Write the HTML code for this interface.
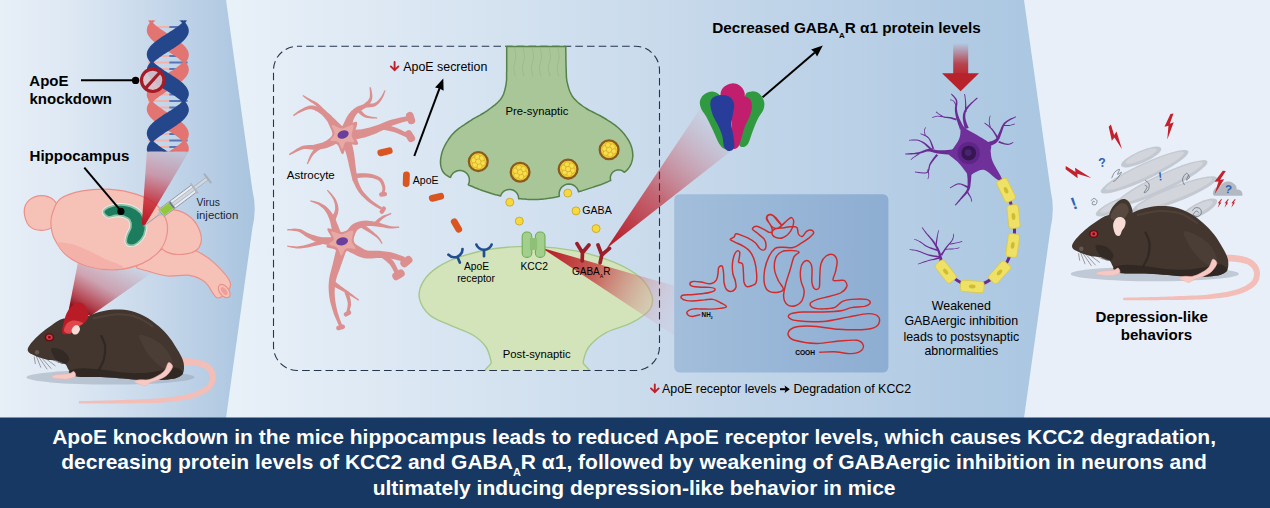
<!DOCTYPE html><html><head><meta charset="utf-8"><title>Graphical abstract</title><style>
html,body{margin:0;padding:0;background:#e8eff8;}
body{width:1270px;height:508px;overflow:hidden;position:relative;font-family:"Liberation Sans",sans-serif;color:#000;}
.t{position:absolute;white-space:nowrap;line-height:1;}
.b{font-weight:bold;}
.c{text-align:center;}
sub{font-size:52%;vertical-align:baseline;position:relative;top:0.62em;line-height:0;}
#banner{position:absolute;left:0;top:417px;width:1270px;height:91px;color:#fff;font-weight:bold;font-size:21px;text-align:center;}
#banner div{position:absolute;left:-0.9px;width:1270px;white-space:nowrap;line-height:1;}
.red{color:#c0202a;}
</style></head><body><svg width="1270" height="508" viewBox="0 0 1270 508" style="position:absolute;left:0;top:0">
<defs>
<linearGradient id="gL" gradientUnits="userSpaceOnUse" x1="0" y1="0" x2="255" y2="0">
 <stop offset="0" stop-color="#e7eff7"/><stop offset="0.25" stop-color="#dfe9f4"/><stop offset="0.55" stop-color="#cbdbec"/><stop offset="1" stop-color="#a9c4df"/></linearGradient>
<linearGradient id="gM" gradientUnits="userSpaceOnUse" x1="235" y1="0" x2="1050" y2="0">
 <stop offset="0" stop-color="#e8f0f8"/><stop offset="0.5" stop-color="#cadbec"/><stop offset="1" stop-color="#aac6e1"/></linearGradient>
<linearGradient id="gBox" gradientUnits="userSpaceOnUse" x1="674" y1="0" x2="888" y2="0">
 <stop offset="0" stop-color="#a2bedb"/><stop offset="1" stop-color="#8dadd2"/></linearGradient>
<linearGradient id="gBeam1" gradientUnits="userSpaceOnUse" x1="167" y1="150" x2="145" y2="225">
 <stop offset="0" stop-color="#c8283a" stop-opacity="0.1"/><stop offset="0.35" stop-color="#c8283a" stop-opacity="0.36"/><stop offset="0.65" stop-color="#c4202c" stop-opacity="0.78"/><stop offset="1" stop-color="#bb1622" stop-opacity="1"/></linearGradient>
<linearGradient id="gBeam2" gradientUnits="userSpaceOnUse" x1="115" y1="255" x2="82" y2="312">
 <stop offset="0" stop-color="#b82030" stop-opacity="0.04"/><stop offset="0.5" stop-color="#b82030" stop-opacity="0.33"/><stop offset="0.85" stop-color="#a81824" stop-opacity="0.8"/><stop offset="1" stop-color="#8e121c" stop-opacity="1"/></linearGradient>
<linearGradient id="gBeam3" gradientUnits="userSpaceOnUse" x1="541" y1="248" x2="675" y2="311">
 <stop offset="0" stop-color="#b5141f" stop-opacity="1"/><stop offset="0.4" stop-color="#c43a3a" stop-opacity="0.78"/><stop offset="0.75" stop-color="#d08a8a" stop-opacity="0.42"/><stop offset="0.9" stop-color="#d8a0b8" stop-opacity="0.25"/><stop offset="1" stop-color="#d8a8c0" stop-opacity="0.15"/></linearGradient>
<linearGradient id="gBeam4" gradientUnits="userSpaceOnUse" x1="606" y1="248" x2="716" y2="128">
 <stop offset="0" stop-color="#b5141f" stop-opacity="1"/><stop offset="0.45" stop-color="#c02a35" stop-opacity="0.65"/><stop offset="1" stop-color="#d07080" stop-opacity="0.08"/></linearGradient>
<linearGradient id="gArrow" gradientUnits="userSpaceOnUse" x1="0" y1="43" x2="0" y2="78">
 <stop offset="0" stop-color="#b8222a" stop-opacity="0"/><stop offset="0.6" stop-color="#b8222a" stop-opacity="0.8"/><stop offset="1" stop-color="#b8222a" stop-opacity="1"/></linearGradient>
</defs>

<rect x="0" y="0" width="1270" height="418" fill="#e8eff8"/>
<path d="M0 0H1024L1050.6 190Q1055 209 1050.6 228L1024 418H0Z" fill="url(#gM)"/>
<path d="M0 0H226L252.4 190Q257 209 252.4 228L226 418H0Z" fill="url(#gL)"/>
<rect x="0" y="417.5" width="1270" height="91" fill="#163862"/>
<path d="M80 252L158 268.6L91 315.5L68.5 311Z" fill="url(#gBeam2)"/>
<clipPath id="cDNA"><rect x="140" y="20.5" width="60" height="131"/></clipPath>
<g clip-path="url(#cDNA)">
<line x1="149.1" y1="27" x2="169.3" y2="27" stroke="#f1b3ab" stroke-width="2"/>
<line x1="169.3" y1="27" x2="186.5" y2="27" stroke="#5577b8" stroke-width="2"/>
<line x1="155.3" y1="34" x2="169.3" y2="34" stroke="#f1b3ab" stroke-width="2"/>
<line x1="169.3" y1="34" x2="180.3" y2="34" stroke="#5577b8" stroke-width="2"/>
<line x1="157.4" y1="49.5" x2="169.3" y2="49.5" stroke="#f1b3ab" stroke-width="2"/>
<line x1="169.3" y1="49.5" x2="178.2" y2="49.5" stroke="#5577b8" stroke-width="2"/>
<line x1="150.4" y1="56" x2="169.3" y2="56" stroke="#f1b3ab" stroke-width="2"/>
<line x1="169.3" y1="56" x2="185.2" y2="56" stroke="#5577b8" stroke-width="2"/>
<line x1="148" y1="62.5" x2="169.3" y2="62.5" stroke="#f1b3ab" stroke-width="2"/>
<line x1="169.3" y1="62.5" x2="187.6" y2="62.5" stroke="#5577b8" stroke-width="2"/>
<line x1="150.7" y1="69" x2="169.3" y2="69" stroke="#f1b3ab" stroke-width="2"/>
<line x1="169.3" y1="69" x2="184.9" y2="69" stroke="#5577b8" stroke-width="2"/>
<line x1="157.9" y1="75.5" x2="169.3" y2="75.5" stroke="#f1b3ab" stroke-width="2"/>
<line x1="169.3" y1="75.5" x2="177.7" y2="75.5" stroke="#5577b8" stroke-width="2"/>
<line x1="158.8" y1="88" x2="169.3" y2="88" stroke="#f1b3ab" stroke-width="2"/>
<line x1="169.3" y1="88" x2="176.8" y2="88" stroke="#5577b8" stroke-width="2"/>
<line x1="151.2" y1="94.5" x2="169.3" y2="94.5" stroke="#f1b3ab" stroke-width="2"/>
<line x1="169.3" y1="94.5" x2="184.4" y2="94.5" stroke="#5577b8" stroke-width="2"/>
<line x1="148" y1="101" x2="169.3" y2="101" stroke="#f1b3ab" stroke-width="2"/>
<line x1="169.3" y1="101" x2="187.6" y2="101" stroke="#5577b8" stroke-width="2"/>
<line x1="150" y1="107.5" x2="169.3" y2="107.5" stroke="#f1b3ab" stroke-width="2"/>
<line x1="169.3" y1="107.5" x2="185.6" y2="107.5" stroke="#5577b8" stroke-width="2"/>
<line x1="156.6" y1="114" x2="169.3" y2="114" stroke="#f1b3ab" stroke-width="2"/>
<line x1="169.3" y1="114" x2="179" y2="114" stroke="#5577b8" stroke-width="2"/>
<line x1="158.8" y1="127.5" x2="169.3" y2="127.5" stroke="#f1b3ab" stroke-width="2"/>
<line x1="169.3" y1="127.5" x2="176.8" y2="127.5" stroke="#5577b8" stroke-width="2"/>
<line x1="151.2" y1="134" x2="169.3" y2="134" stroke="#f1b3ab" stroke-width="2"/>
<line x1="169.3" y1="134" x2="184.4" y2="134" stroke="#5577b8" stroke-width="2"/>
<line x1="148" y1="140.5" x2="169.3" y2="140.5" stroke="#f1b3ab" stroke-width="2"/>
<line x1="169.3" y1="140.5" x2="187.6" y2="140.5" stroke="#5577b8" stroke-width="2"/>
<line x1="150" y1="147" x2="169.3" y2="147" stroke="#f1b3ab" stroke-width="2"/>
<line x1="169.3" y1="147" x2="185.6" y2="147" stroke="#5577b8" stroke-width="2"/>
<path d="M159.5 1.1L157.9 2.2L156.5 3.4L155.1 4.5L153.8 5.6L152.6 6.7L151.6 7.8L150.6 8.9L149.8 10L149.2 11.1L148.6 12.2L148.3 13.3L148.1 14.4L148 15.5L148.1 16.6L148.3 17.7L148.7 18.9L149.3 20L150 21.1L150.8 22.2L151.7 23.3L152.8 24.4L154 25.5L155.3 26.6L156.7 27.7L158.2 28.8L159.8 29.9L161.4 31L163 32.1L164.8 33.2L166.5 34.4L168.2 35.5L170 36.6L171.7 37.7L173.4 38.8L175 39.9L176.6 41L178.1 42.1L179.6 43.2L180.9 44.3L182.2 45.4L183.3 46.5L184.4 47.6L185.2 48.7L186 49.9L186.6 51L187.1 52.1L187.4 53.2L187.6 54.3L187.6 55.4L187.4 56.5L187.2 57.6L186.7 58.7L186.1 59.8L185.4 60.9L184.5 62L183.5 63.1L182.4 64.2L181.2 65.4L179.9 66.5L178.4 67.6L176.9 68.7L175.3 69.8L173.7 70.9L172 72L170.3 73.1L168.6 74.2L166.8 75.3L165.1 76.4L163.4 77.5L161.7 78.6L160 79.7L158.5 80.9L157 82L155.6 83.1L154.2 84.2L153 85.3L151.9 86.4L150.9 87.5L150.1 88.6L149.4 89.7L148.8 90.8L148.4 91.9L148.1 93L148 94.1L148 95.2L148.2 96.4L148.6 97.5L149.1 98.6L149.7 99.7L150.5 100.8L151.4 101.9L152.4 103L153.6 104.1L154.8 105.2L156.2 106.3L157.7 107.4L159.2 108.5L160.8 109.6L162.4 110.7L164.1 111.9L165.9 113L167.6 114.1L169.4 115.2L171.1 116.3L172.8 117.4L174.5 118.5L176.1 119.6L177.6 120.7L179.1 121.8L180.5 122.9L181.8 124L182.9 125.1L184 126.2L184.9 127.4L185.7 128.5L186.4 129.6L186.9 130.7L187.3 131.8L187.5 132.9L187.6 134L187.5 135.1L187.3 136.2L186.9 137.3L186.4 138.4L185.7 139.5L184.9 140.6L183.9 141.7L182.8 142.9L181.6 144L180.3 145.1L178.9 146.2L177.5 147.3L175.9 148.4L174.3 149.5L172.6 150.6L170.9 151.7L169.2 152.8L167.4 153.9L165.7 155L164 156.1L164 170.9L165.7 169.8L167.4 168.6L169.2 167.5L170.9 166.4L172.6 165.3L174.3 164.2L175.9 163.1L177.5 162L178.9 160.9L180.3 159.8L181.6 158.7L182.8 157.6L183.9 156.5L184.9 155.4L185.7 154.3L186.4 153.1L186.9 152L187.3 150.9L187.5 149.8L187.6 148.7L187.5 147.6L187.3 146.5L186.9 145.4L186.4 144.3L185.7 143.2L184.9 142.1L184 141L182.9 139.9L181.8 138.8L180.5 137.6L179.1 136.5L177.6 135.4L176.1 134.3L174.5 133.2L172.8 132.1L171.1 131L169.4 129.9L167.6 128.8L165.9 127.7L164.1 126.6L162.4 125.5L160.8 124.4L159.2 123.3L157.7 122.1L156.2 121L154.8 119.9L153.6 118.8L152.4 117.7L151.4 116.6L150.5 115.5L149.7 114.4L149.1 113.3L148.6 112.2L148.2 111.1L148 110L148 108.9L148.1 107.8L148.4 106.6L148.8 105.5L149.4 104.4L150.1 103.3L150.9 102.2L151.9 101.1L153 100L154.2 98.9L155.6 97.8L157 96.7L158.5 95.6L160 94.5L161.7 93.4L163.4 92.3L165.1 91.1L166.8 90L168.6 88.9L170.3 87.8L172 86.7L173.7 85.6L175.3 84.5L176.9 83.4L178.4 82.3L179.9 81.2L181.2 80.1L182.4 79L183.5 77.9L184.5 76.8L185.4 75.6L186.1 74.5L186.7 73.4L187.2 72.3L187.4 71.2L187.6 70.1L187.6 69L187.4 67.9L187.1 66.8L186.6 65.7L186 64.6L185.2 63.5L184.4 62.4L183.3 61.3L182.2 60.1L180.9 59L179.6 57.9L178.1 56.8L176.6 55.7L175 54.6L173.4 53.5L171.7 52.4L170 51.3L168.2 50.2L166.5 49.1L164.8 48L163 46.9L161.4 45.8L159.8 44.6L158.2 43.5L156.7 42.4L155.3 41.3L154 40.2L152.8 39.1L151.7 38L150.8 36.9L150 35.8L149.3 34.7L148.7 33.6L148.3 32.5L148.1 31.4L148 30.3L148.1 29.1L148.3 28L148.6 26.9L149.2 25.8L149.8 24.7L150.6 23.6L151.6 22.5L152.6 21.4L153.8 20.3L155.1 19.2L156.5 18.1L157.9 17L159.5 15.9Z" fill="#e27472" stroke="#e27472" stroke-width="2.4" stroke-linejoin="round"/>
<path d="M176.1 0.5L177.7 1.6L179.1 2.7L180.5 3.8L181.8 4.9L183 6L184 7.1L185 8.2L185.8 9.4L186.4 10.5L187 11.6L187.3 12.7L187.5 13.8L187.6 14.9L187.5 16L187.3 17.1L186.9 18.2L186.3 19.3L185.6 20.4L184.8 21.5L183.9 22.6L182.8 23.8L181.6 24.9L180.3 26L178.9 27.1L177.4 28.2L175.8 29.3L174.2 30.4L172.6 31.5L170.8 32.6L169.1 33.7L167.4 34.8L165.6 35.9L163.9 37L162.2 38.1L160.6 39.2L159 40.4L157.5 41.5L156 42.6L154.7 43.7L153.4 44.8L152.3 45.9L151.2 47L150.4 48.1L149.6 49.2L149 50.3L148.5 51.4L148.2 52.5L148 53.6L148 54.8L148.2 55.9L148.4 57L148.9 58.1L149.5 59.2L150.2 60.3L151.1 61.4L152.1 62.5L153.2 63.6L154.4 64.7L155.7 65.8L157.2 66.9L158.7 68L160.3 69.1L161.9 70.2L163.6 71.4L165.3 72.5L167 73.6L168.8 74.7L170.5 75.8L172.2 76.9L173.9 78L175.6 79.1L177.1 80.2L178.6 81.3L180 82.4L181.4 83.5L182.6 84.6L183.7 85.8L184.7 86.9L185.5 88L186.2 89.1L186.8 90.2L187.2 91.3L187.5 92.4L187.6 93.5L187.6 94.6L187.4 95.7L187 96.8L186.5 97.9L185.9 99L185.1 100.1L184.2 101.2L183.2 102.4L182 103.5L180.8 104.6L179.4 105.7L177.9 106.8L176.4 107.9L174.8 109L173.2 110.1L171.5 111.2L169.7 112.3L168 113.4L166.2 114.5L164.5 115.6L162.8 116.8L161.1 117.9L159.5 119L158 120.1L156.5 121.2L155.1 122.3L153.8 123.4L152.7 124.5L151.6 125.6L150.7 126.7L149.9 127.8L149.2 128.9L148.7 130L148.3 131.1L148.1 132.2L148 133.4L148.1 134.5L148.3 135.6L148.7 136.7L149.2 137.8L149.9 138.9L150.7 140L151.7 141.1L152.8 142.2L154 143.3L155.3 144.4L156.7 145.5L158.1 146.6L159.7 147.8L161.3 148.9L163 150L164.7 151.1L166.4 152.2L168.2 153.3L169.9 154.4L171.6 155.5L171.6 171.5L169.9 170.4L168.2 169.3L166.4 168.2L164.7 167.1L163 166L161.3 164.9L159.7 163.8L158.1 162.6L156.7 161.5L155.3 160.4L154 159.3L152.8 158.2L151.7 157.1L150.7 156L149.9 154.9L149.2 153.8L148.7 152.7L148.3 151.6L148.1 150.5L148 149.4L148.1 148.2L148.3 147.1L148.7 146L149.2 144.9L149.9 143.8L150.7 142.7L151.6 141.6L152.7 140.5L153.8 139.4L155.1 138.3L156.5 137.2L158 136.1L159.5 135L161.1 133.9L162.8 132.8L164.5 131.6L166.2 130.5L168 129.4L169.7 128.3L171.5 127.2L173.2 126.1L174.8 125L176.4 123.9L177.9 122.8L179.4 121.7L180.8 120.6L182 119.5L183.2 118.4L184.2 117.2L185.1 116.1L185.9 115L186.5 113.9L187 112.8L187.4 111.7L187.6 110.6L187.6 109.5L187.5 108.4L187.2 107.3L186.8 106.2L186.2 105.1L185.5 104L184.7 102.9L183.7 101.8L182.6 100.6L181.4 99.5L180 98.4L178.6 97.3L177.1 96.2L175.6 95.1L173.9 94L172.2 92.9L170.5 91.8L168.8 90.7L167 89.6L165.3 88.5L163.6 87.4L161.9 86.2L160.3 85.1L158.7 84L157.2 82.9L155.7 81.8L154.4 80.7L153.2 79.6L152.1 78.5L151.1 77.4L150.2 76.3L149.5 75.2L148.9 74.1L148.4 73L148.2 71.9L148 70.8L148 69.6L148.2 68.5L148.5 67.4L149 66.3L149.6 65.2L150.4 64.1L151.2 63L152.3 61.9L153.4 60.8L154.7 59.7L156 58.6L157.5 57.5L159 56.4L160.6 55.2L162.2 54.1L163.9 53L165.6 51.9L167.4 50.8L169.1 49.7L170.8 48.6L172.6 47.5L174.2 46.4L175.8 45.3L177.4 44.2L178.9 43.1L180.3 42L181.6 40.9L182.8 39.8L183.9 38.6L184.8 37.5L185.6 36.4L186.3 35.3L186.9 34.2L187.3 33.1L187.5 32L187.6 30.9L187.5 29.8L187.3 28.7L187 27.6L186.4 26.5L185.8 25.4L185 24.2L184 23.1L183 22L181.8 20.9L180.5 19.8L179.1 18.7L177.7 17.6L176.1 16.5Z" fill="#24468b" stroke="#24468b" stroke-width="2.4" stroke-linejoin="round"/>
</g>
<line x1="81" y1="80.3" x2="136" y2="80.3" stroke="#000" stroke-width="2"/><circle cx="135.6" cy="80.4" r="3.7" fill="#000"/><circle cx="152.7" cy="80.3" r="11.2" fill="#d9c6d0" fill-opacity="0.92" stroke="#a51c26" stroke-width="3.2"/><line x1="145.2" y1="88.6" x2="160.2" y2="72" stroke="#a51c26" stroke-width="3.2"/>
<path d="M173.8 244.5C183.5 242.1 189 247.6 195.8 250.8C202.7 253.9 209 257.9 214.7 263.4C220.5 268.9 229.9 278.1 230.5 283.9C231 289.6 222.1 298.3 217.9 298C213.7 297.8 210 286.1 205.3 282.3C200.6 278.5 195.8 276.4 189.5 275.4C183.2 274.3 174.3 276.7 167.5 276C160.7 275.3 153.6 273.1 148.6 271.3C143.6 269.4 133.4 269.4 137.6 265C141.8 260.5 164.1 246.9 173.8 244.5Z" fill="#f6c2b8" stroke="#eb9089" stroke-width="1.2" stroke-linejoin="round"/>
<ellipse cx="224.2" cy="291.1" rx="4.6" ry="7.6" transform="rotate(-38 224.2 291.1)" fill="#f6c2b8" stroke="#eb9089" stroke-width="1.2"/>
<ellipse cx="224.2" cy="291.1" rx="2.4" ry="4.6" transform="rotate(-38 224.2 291.1)" fill="#ee9f97"/>
<path d="M158 216.1C160.7 210.9 168.3 209.6 173.8 209.8C179.3 210.1 186.6 213.8 191.1 217.7C195.6 221.7 199.2 228.5 200.6 233.5C201.9 238.5 201.3 244.2 199 247.6C196.6 251 191.6 253.1 186.4 253.9C181.1 254.7 172.2 254.5 167.5 252.4C162.8 250.3 159.6 247.4 158 241.3C156.5 235.3 155.4 221.4 158 216.1Z" fill="#f6c2b8" stroke="#eb9089" stroke-width="1.2"/>
<path d="M24.2 211.4C24.2 207.2 26 203 28.9 200.4C31.8 197.8 37.3 195.7 41.5 195.7C45.7 195.7 51.2 197.5 54.1 200.4C57 203.3 58.8 208.8 58.8 213C58.8 217.2 57 222.7 54.1 225.6C51.2 228.5 45.7 230.3 41.5 230.3C37.3 230.3 31.8 228.7 28.9 225.6C26 222.4 24.2 215.6 24.2 211.4Z" fill="#f6c2b8" stroke="#eb9089" stroke-width="1.2"/>
<path d="M52.5 213C54.1 208.8 55.4 202.5 60.4 198.8C65.4 195.1 74 192.5 82.4 190.9C90.8 189.4 101.9 188.8 110.8 189.4C119.7 189.9 128.6 191.7 136 194.1C143.3 196.5 149.9 199.3 154.9 203.5C159.9 207.7 163.9 214 165.9 219.3C167.9 224.5 167.9 229.8 166.9 235C165.8 240.3 163.7 246.1 159.6 250.8C155.5 255.5 149.4 260.2 142.3 263.4C135.2 266.5 126 269.2 117.1 269.7C108.2 270.2 97.1 268.9 88.7 266.5C80.3 264.2 72.5 260.2 66.7 255.5C60.9 250.8 56.7 243.4 54.1 238.2C51.5 232.9 51.2 228.2 50.9 224C50.7 219.8 50.9 217.2 52.5 213Z" fill="#f6c2b8" stroke="#eb9089" stroke-width="1.2"/>
<path d="M57.2 242.9C58.6 241.4 67.7 243.2 73 244.5C78.2 245.8 83.5 248.4 88.7 250.8C94 253.1 98.7 255.9 104.5 258.7C110.3 261.4 123.4 265.4 123.4 267.2C123.4 268.9 111.3 269.6 104.5 269.1C97.7 268.5 89 266.6 82.4 264C75.9 261.4 69.3 256.8 65.1 253.3C60.9 249.8 55.9 244.4 57.2 242.9Z" fill="#f2ada5" opacity="0.8"/>
<path d="M103.5 211.7C103.9 210.1 107.4 207.8 110.2 206.7C112.9 205.5 116.7 204.8 120.2 204.8C123.8 204.8 127.8 205.3 131.3 206.7C134.7 208.1 138.3 210.1 140.7 213C143.1 215.9 144.9 220.3 145.4 224C146 227.7 145.2 231.9 143.9 235C142.5 238.2 139.7 241.2 137.6 242.9C135.5 244.6 133.1 245.4 131.3 245.4C129.4 245.4 127.2 244.5 126.5 242.9C125.9 241.3 126.4 238.3 127.2 235.7C127.9 233 130.5 229.8 130.9 227.2C131.4 224.5 130.9 221.8 129.7 219.9C128.4 218.1 125.7 216.9 123.4 216.1C121 215.4 118 215.4 115.5 215.5C113 215.6 110.3 217.4 108.3 216.8C106.3 216.1 103.2 213.4 103.5 211.7Z" fill="#1c7d5e" stroke="#e9f3ee" stroke-width="3.4" stroke-linejoin="round"/><path d="M103.5 211.7C103.9 210.1 107.4 207.8 110.2 206.7C112.9 205.5 116.7 204.8 120.2 204.8C123.8 204.8 127.8 205.3 131.3 206.7C134.7 208.1 138.3 210.1 140.7 213C143.1 215.9 144.9 220.3 145.4 224C146 227.7 145.2 231.9 143.9 235C142.5 238.2 139.7 241.2 137.6 242.9C135.5 244.6 133.1 245.4 131.3 245.4C129.4 245.4 127.2 244.5 126.5 242.9C125.9 241.3 126.4 238.3 127.2 235.7C127.9 233 130.5 229.8 130.9 227.2C131.4 224.5 130.9 221.8 129.7 219.9C128.4 218.1 125.7 216.9 123.4 216.1C121 215.4 118 215.4 115.5 215.5C113 215.6 110.3 217.4 108.3 216.8C106.3 216.1 103.2 213.4 103.5 211.7Z" fill="#1c7d5e" stroke="#8dc0a6" stroke-width="1.8" stroke-linejoin="round"/><line x1="84.3" y1="167.6" x2="120.9" y2="210.8" stroke="#000" stroke-width="2"/><circle cx="120.9" cy="211.4" r="3.6" fill="#000"/>
<path d="M147 150.5L189.5 150.5L144.5 226L141.8 224Z" fill="url(#gBeam1)"/>
<g transform="translate(143.4 226.4) rotate(-36.8)">
<line x1="0" y1="0" x2="22" y2="0" stroke="#9aa3ad" stroke-width="1"/>
<rect x="19" y="-2" width="4.5" height="4" fill="#b9c0c8"/>
<rect x="22.3" y="-4.4" width="41" height="8.8" rx="1.2" fill="#e9edf2" stroke="#8f99a5" stroke-width="0.9"/>
<rect x="23" y="-3.8" width="11.5" height="7.6" fill="#93c83e"/>
<rect x="34.5" y="-3.8" width="2.2" height="7.6" fill="#6f7a86"/>
<rect x="36.7" y="-1.6" width="43" height="3.2" fill="#d2d8df" stroke="#9aa3ad" stroke-width="0.6"/>
<rect x="62.6" y="-6.4" width="1.8" height="12.8" fill="#aeb6bf"/>
<rect x="79.2" y="-6" width="2" height="12" fill="#a7afb9"/>
</g>
<g transform="translate(0 0)">
<ellipse cx="110.5" cy="377.3" rx="84" ry="7.3" fill="#98a3b3" opacity="0.5"/>
<path d="M179.4 365.1L180.5 365.1L182 365.1L183.6 365L185.5 365L187.4 365L189.3 365.1L191.1 365.2L192.8 365.4L194.4 365.7L196.1 365.9L197.7 366.3L199.4 366.6L200.9 367.1L202.3 367.5L203.5 368L204.5 368.6L205.4 369.3L206.3 370.1L207.2 370.9L207.9 371.8L208.5 372.7L209 373.7L209.3 374.6L209.6 375.5L209.7 376.6L209.7 377.8L209.6 379L209.4 380.3L209 381.5L208.5 382.7L207.8 383.9L206.9 384.9L205.7 386L204.3 387.1L202.6 388.2L200.7 389.3L198.5 390.4L196.2 391.4L193.7 392.4L191.1 393.2L188.3 394L185.3 394.7L182.1 395.4L178.7 396L175.2 396.5L171.6 397L167.9 397.5L164.1 397.9L160.2 398.3L156.2 398.6L152 398.8L147.7 399L143.4 399.2L139.2 399.4L135.1 399.5L131.2 399.7L127.5 399.8L123.9 400L120.4 400.1L116.9 400.2L113.6 400.3L110.2 400.4L106.9 400.5L103.7 400.6L100.3 400.7L96.7 400.7L93.1 400.8L89.6 400.9L86.2 401L83.3 401L80.8 401.1L78.9 401.1L78.9 403.5L80.8 403.6L83.3 403.6L86.3 403.6L89.6 403.6L93.1 403.6L96.7 403.6L100.3 403.6L103.7 403.6L107 403.6L110.3 403.6L113.6 403.6L117 403.5L120.4 403.5L123.9 403.5L127.6 403.4L131.3 403.4L135.2 403.3L139.3 403.3L143.5 403.2L147.8 403.1L152.2 403L156.4 402.9L160.6 402.7L164.5 402.4L168.3 402.1L172.1 401.7L175.8 401.3L179.5 400.8L183 400.3L186.4 399.7L189.6 399L192.6 398.2L195.5 397.4L198.2 396.4L200.7 395.4L203.2 394.2L205.4 393L207.5 391.7L209.3 390.4L211 388.9L212.4 387.3L213.6 385.5L214.5 383.6L215.1 381.7L215.4 379.9L215.6 378L215.7 376.3L215.5 374.6L215.2 372.9L214.6 371.3L213.8 369.7L212.9 368.2L211.8 366.8L210.6 365.6L209.3 364.4L207.9 363.3L206.3 362.4L204.6 361.6L202.9 360.9L201 360.4L199.2 359.9L197.3 359.5L195.5 359.1L193.7 358.8L191.8 358.6L189.7 358.4L187.6 358.2L185.6 358.2L183.7 358.1L182 358.1L180.6 358.1L179.5 358.1Z" fill="#f3bdb8"/>
<path d="M27.9 348.3C28.5 346.6 30 344.4 32 342C34.1 339.6 37.1 336.5 40.3 333.7C43.5 331 47.4 328 51.3 325.5C55.2 322.9 59.4 319.3 63.7 318.6C68.1 317.9 73.1 321.9 77.5 321.3C81.9 320.8 85.5 317 89.9 315.3C94.3 313.5 99.1 311.8 103.7 310.9C108.3 309.9 112.9 309.5 117.5 309.5C122.1 309.5 126.7 309.7 131.2 310.9C135.8 312 140.4 313.8 145 316.4C149.6 318.9 154.7 322.7 158.8 326.3C162.9 329.9 166.5 333.6 169.8 337.9C173.1 342.1 176.3 347.5 178.6 351.6C180.9 355.8 182.9 359.1 183.6 362.7C184.3 366.2 184.2 370.6 183.1 373.1C181.9 375.7 179.6 377 176.4 378.1C173.3 379.2 169.1 379.4 164.3 379.8C159.5 380.1 153.7 380.4 147.8 380.3C141.8 380.2 134.9 379.4 128.5 378.9C122.1 378.5 115.2 377.9 109.2 377.5C103.2 377.2 97.7 377.1 92.7 377C87.6 376.9 82.3 377.1 78.9 376.7C75.4 376.4 73.7 376 72 374.8C70.3 373.6 69.6 371.3 68.4 369.6C67.3 367.8 67 365.5 65.1 364C63.2 362.6 59.6 361.4 56.8 360.7C54.1 360 51.3 360.4 48.6 359.9C45.8 359.4 42.8 358.5 40.3 357.7C37.8 356.9 35.4 355.9 33.4 355C31.5 354 29.7 353.3 28.7 352.2C27.8 351.1 27.4 350 27.9 348.3Z" fill="#43362f"/>
<path d="M69.2 370.9C70.9 369.8 76.4 368.4 81.6 368.2C86.9 367.9 94.5 368.9 100.9 369.6C107.4 370.2 113.8 371.7 120.2 372.3C126.7 372.9 133.1 373.4 139.5 373.1C145.9 372.9 152.8 371.9 158.8 370.9C164.8 370 171.3 367.3 175.3 367.6C179.4 368 182.9 371.4 183.1 373.1C183.2 374.9 179.6 377 176.4 378.1C173.3 379.2 169.1 379.4 164.3 379.8C159.5 380.1 153.7 380.4 147.8 380.3C141.8 380.2 134.9 379.4 128.5 378.9C122.1 378.5 115.2 377.9 109.2 377.5C103.2 377.2 97.7 377.1 92.7 377C87.6 376.9 82.3 377.1 78.9 376.7C75.4 376.4 73.6 375.8 72 374.8C70.4 373.8 67.6 372 69.2 370.9Z" fill="#2d2521" opacity="0.8"/>
<path d="M139.5 335.1C140.9 333.5 148.9 336.9 153.3 339.2C157.7 341.5 162.5 345 165.7 348.9C168.9 352.8 172.8 359.5 172.6 362.7C172.3 365.9 167.5 368.6 164.3 368.2C161.1 367.7 156.5 363.1 153.3 359.9C150.1 356.7 147.3 353 145 348.9C142.7 344.8 138.1 336.7 139.5 335.1Z" fill="#574940" opacity="0.45"/>
<path d="M100.9 335.1C101.6 336.9 104.6 342 105.1 346.1C105.5 350.3 104.8 355.8 103.7 359.9C102.5 364 99.1 369.1 98.2 370.9" fill="none" stroke="#2d2521" stroke-width="2.2" opacity="0.8"/>
<path d="M92.7 318.6C96.3 317.9 107.4 314.7 114.7 314.4C122.1 314.2 130.3 315.1 136.8 317.2C143.2 319.3 150.5 325.2 153.3 326.8" fill="none" stroke="#574940" stroke-width="2" opacity="0.6"/>
<path d="M51.3 348.9C52.3 347.1 59.4 348.7 62.4 350.3C65.3 351.9 68.8 356.2 69.2 358.5C69.7 360.8 67.2 363.7 65.1 364C63 364.4 59.1 363.3 56.8 360.7C54.5 358.2 50.4 350.6 51.3 348.9Z" fill="#2d2521" opacity="0.7"/>
<path d="M168.4 362.7C167.1 363.4 166.5 368.5 164.3 370.9C162.2 373.3 158.3 375.5 155.5 377C152.7 378.5 150.4 379.3 147.8 379.8C145.1 380.2 141.7 379.4 139.5 379.8C137.3 380.1 134.6 381.2 134.6 382C134.6 382.7 137.8 383.5 139.5 384.2C141.3 384.8 143.2 386.1 145 385.8C146.9 385.5 148.2 383.5 150.5 382.5C152.8 381.5 156 381 158.8 379.8C161.6 378.5 164.8 377.2 167.1 375.1C169.4 372.9 172.3 368.9 172.6 366.8C172.8 364.7 169.8 362 168.4 362.7Z" fill="#f6c9c4" stroke="#eeb0aa" stroke-width="0.5"/>
<path d="M73.9 371.5C72.9 371.1 71.4 373.2 69.2 373.7C67.1 374.1 63.5 374 61 374.2C58.5 374.5 55.6 374.8 54.1 375.3C52.6 375.9 51.5 377 52.2 377.5C52.8 378.1 56.1 378.4 58.2 378.6C60.4 378.9 63 379.3 65.1 379.2C67.3 379.1 69.4 378.6 71.2 378.1C72.9 377.5 75.1 377 75.6 375.9C76 374.8 75 371.9 73.9 371.5Z" fill="#f6c9c4" stroke="#eeb0aa" stroke-width="0.5"/>
<path d="M62.4 332.9C61.5 330.8 63.1 325 64 321.3C64.9 317.7 65.8 313.9 67.9 310.9C69.9 307.8 73.6 304.3 76.1 303.1C78.7 302 81.2 302.5 83 303.7C84.9 304.9 86.3 308.1 87.2 310.3C88 312.6 88.8 315 88.3 317.2C87.7 319.4 85.6 321.9 83.8 323.5C82.1 325.1 79.2 325.6 77.5 326.8C75.9 328.1 75.3 329.8 73.9 331C72.6 332.1 71.2 333.4 69.2 333.7C67.3 334.1 63.2 335 62.4 332.9Z" fill="#b91c27"/>
<path d="M64 331C63.6 329.4 65.2 325.8 66.5 324.1C67.8 322.4 69.9 321.2 72 320.8C74.1 320.3 77.1 320.9 78.9 321.3C80.7 321.8 83.3 322.5 83 323.5C82.8 324.5 79 326.2 77.5 327.4C76 328.6 75.3 329.9 73.9 331C72.6 332 70.9 333.7 69.2 333.7C67.6 333.7 64.5 332.6 64 331Z" fill="#e0474c"/>
<path d="M71.7 329.6C72.1 328.4 73.4 326.4 74.5 325.7C75.6 325.1 77.4 325.2 78.3 325.7C79.3 326.3 80 327.9 80 329C80 330.2 79.2 332 78.3 332.9C77.5 333.8 76 334.6 75 334.6C74 334.6 72.8 333.7 72.3 332.9C71.7 332.1 71.4 330.8 71.7 329.6Z" fill="#f7dcd6"/>
<ellipse cx="49.4" cy="337.3" rx="4.8" ry="4" fill="#5e1018"/>
<ellipse cx="49.4" cy="337.3" rx="3.2" ry="2.7" fill="#e23640"/>
<circle cx="49.4" cy="337.3" r="1.3" fill="#5a0d14"/>
<circle cx="37" cy="352.2" r="2.2" fill="#6a5d55" opacity="0.9"/>
<line x1="36.2" y1="355.8" x2="40.9" y2="367.6" stroke="#3b3431" stroke-width="0.45"/>
<line x1="38.1" y1="356.1" x2="47.2" y2="369.3" stroke="#3b3431" stroke-width="0.45"/>
<line x1="40.3" y1="356.3" x2="51.3" y2="368.7" stroke="#3b3431" stroke-width="0.45"/>
<line x1="42.5" y1="356.1" x2="55.5" y2="366" stroke="#3b3431" stroke-width="0.45"/>
<line x1="44.4" y1="355.5" x2="59" y2="362.7" stroke="#3b3431" stroke-width="0.45"/>
<line x1="34.2" y1="356.6" x2="35.4" y2="364" stroke="#3b3431" stroke-width="0.45"/>
</g>
<clipPath id="cPost"><rect x="400" y="200" width="280" height="170.6"/></clipPath><path d="M419.4 298.4C418.3 292.8 420.2 286.8 423.2 281.6C426.2 276.4 431.3 271.5 437.4 267.4C443.5 263.3 450.5 260 459.8 256.9C469.2 253.8 481 250.4 493.5 248.7C505.9 246.9 520.9 246.1 534.6 246.4C548.3 246.8 562.6 248.4 575.7 250.9C588.8 253.5 602.5 257.5 613.1 261.8C623.7 266.1 632.8 271.2 639.3 276.7C645.7 282.2 649.8 289.2 651.6 294.7C653.3 300.2 653 305 649.7 309.6C646.4 314.3 639.1 318.8 631.8 322.7C624.4 326.6 612.8 328.8 605.6 332.8C598.4 336.9 592.5 342.1 588.8 347C585 351.9 584.2 357.6 583.2 362C582.1 366.3 597.6 371.3 582.4 373.2C567.2 375 507.2 375 492 373.2C476.8 371.3 492.2 366.3 491.2 362C490.2 357.6 489 351.5 486 347C482.9 342.5 478.8 338.7 472.9 335C467 331.4 457.6 328.6 450.5 325.3C443.3 322 435.1 319.7 429.9 315.2C424.7 310.7 420.6 304 419.4 298.4Z" fill="#d4e4ba" stroke="#a5c88a" stroke-width="1.4" clip-path="url(#cPost)"/>
<path d="M541.4 247.7L675 286L675 336Z" fill="url(#gBeam3)"/><path d="M606.5 248.5L702.3 105.6L731 151Z" fill="url(#gBeam4)"/>
<rect x="273.5" y="46.3" width="386" height="324.2" rx="24" ry="24" fill="none" stroke="#25354e" stroke-width="1.1" stroke-dasharray="7.6 4.1" stroke-dashoffset="3"/>
<path d="M345 128.7L343.8 127.7L342.2 126.2L340.4 124.4L338.3 122.5L336.3 120.5L334.5 118.8L332.8 117.2L331.2 115.6L329.5 114L327.7 112.4L325.8 110.9L323.9 109.6L321.9 108.5L319.8 107.5L317.6 106.7L315.4 106L313.2 105.6L311.1 105.5L308.9 105.8L306.8 106.5L304.8 107.3L303 108.3L301.3 109.3L299.8 110.1L298.3 111L296.9 111.9L295.7 112.9L294.6 113.8L293.7 114.5L293 115L293.8 116.2L294.5 115.7L295.5 115.1L296.7 114.4L298 113.6L299.4 112.9L300.8 112.2L302.4 111.6L304.2 110.8L306 110.1L307.8 109.6L309.5 109.3L311 109.3L312.5 109.6L314.2 110.1L315.9 110.9L317.6 111.8L319.3 112.9L320.8 114L322.2 115.2L323.6 116.7L324.9 118.3L326.3 120L327.7 121.9L329.1 123.7L330.7 125.7L332.3 127.8L333.9 130L335.4 132.1L336.6 133.9L337.5 135.3Z" fill="#dc8f8f"/>
<path d="M326.5 111.5L325.6 110.6L324.4 109.4L322.9 107.9L321.4 106.4L319.8 104.9L318.4 103.7L317.1 102.7L315.8 102L314.5 101.3L313.4 100.7L312.2 100.2L311 99.5L309.6 98.8L308.1 97.9L306.6 97L305.2 96.2L304 95.4L303.2 94.9L302.5 95.9L303.3 96.5L304.4 97.4L305.7 98.4L307.1 99.4L308.5 100.5L309.8 101.4L311 102.2L312.1 103L313.2 103.6L314.2 104.4L315.3 105.1L316.2 106.1L317.4 107.3L318.6 108.9L319.8 110.6L321 112.2L322 113.6L322.7 114.7Z" fill="#dc8f8f"/>
<path d="M336.4 132L335.3 133.2L333.7 134.7L331.8 136.4L329.9 138.1L328 139.6L326.2 140.7L324.5 141.6L322.7 142.4L320.8 143L318.8 143.6L316.8 144.1L314.8 144.6L312.9 144.9L311 145L308.9 145.1L306.7 145.2L304.4 145.5L302 146.1L299.6 147.2L297.1 148.6L294.6 150.2L292.3 151.8L290.3 153.1L288.9 154L289.6 155.3L291.1 154.5L293.2 153.4L295.7 152.2L298.3 151L300.8 150L303 149.3L304.9 149.1L306.8 149.1L308.8 149.3L310.9 149.5L313.1 149.7L315.4 149.6L317.7 149.4L319.9 149.2L322.2 148.9L324.5 148.5L326.8 147.9L329.2 147.1L331.7 146L334.3 144.7L336.8 143.2L339.1 141.9L340.9 140.8L342.3 140.1Z" fill="#dc8f8f"/>
<path d="M317.7 145.4L317 146.2L316 147.3L314.8 148.6L313.5 150L312.3 151.6L311.2 153.2L310.2 155L309.3 157L308.5 159.1L307.8 161L307.2 162.7L306.7 163.8L307.8 164.3L308.4 163.2L309.2 161.7L310.2 159.9L311.2 158L312.3 156.2L313.4 154.8L314.6 153.6L315.9 152.4L317.3 151.3L318.7 150.3L319.9 149.4L320.8 148.8Z" fill="#dc8f8f"/>
<path d="M350.4 132.4L350.7 130.8L351.2 128.5L351.8 126L352.4 123.4L353.1 121L353.8 119.1L354.5 117.7L355.2 116.3L356 115.2L356.8 114.1L357.8 113L358.7 112.1L359.6 111.3L360.8 110.6L362.1 109.9L363.6 109.1L365.1 108.2L366.5 107.1L367.7 106L368.8 104.8L369.9 103.4L370.9 102L371.7 100.4L372.2 98.6L372.4 96.6L372.3 94.4L371.9 92.2L371.5 90.1L371.2 88.4L370.9 87.2L369.5 87.3L369.6 88.6L369.7 90.4L369.9 92.4L369.9 94.5L369.8 96.4L369.5 97.9L368.9 99.1L368.2 100.2L367.3 101.2L366.2 102.1L365.1 103.1L363.9 103.9L362.8 104.5L361.6 105L360.2 105.5L358.6 106.1L356.9 106.8L355.3 107.8L353.9 108.8L352.6 109.9L351.3 111.1L350 112.5L348.8 114.1L347.6 115.8L346.3 118L345.1 120.5L343.8 123.2L342.7 125.6L341.7 127.7L341 129Z" fill="#dc8f8f"/>
<path d="M365.9 107.8L366.9 107.6L368.3 107.5L370.1 107.3L372 107.1L373.9 106.7L375.6 106L377 105.1L378.3 104L379.4 102.7L380.4 101.5L381.3 100.2L382.1 98.9L382.9 97.4L383.6 95.9L384.3 94.3L384.8 92.8L385.3 91.5L385.6 90.6L384.5 90.2L384.1 91L383.5 92.2L382.8 93.6L382.1 95.1L381.2 96.5L380.4 97.7L379.5 98.8L378.5 99.9L377.5 101L376.4 101.9L375.4 102.6L374.3 103.1L373.1 103.4L371.6 103.5L369.9 103.5L368.3 103.4L366.8 103.3L365.7 103.2Z" fill="#dc8f8f"/>
<path d="M356.8 111.4L357.6 112L358.6 113L360 114.2L361.5 115.4L363.2 116.5L365 117.4L367 118L369.3 118.3L371.7 118.5L373.9 118.6L375.8 118.6L377.1 118.7L377.2 117.5L375.9 117.3L374.1 117L371.9 116.7L369.7 116.2L367.6 115.7L366 115L364.8 114.2L363.5 113L362.4 111.7L361.3 110.5L360.4 109.3L359.8 108.4Z" fill="#dc8f8f"/>
<path d="M349.4 140.3L351 140L353.2 139.6L356 139.2L359 138.7L362 138.1L364.9 137.4L367.5 136.6L370 135.8L372.4 134.8L374.7 133.9L377.1 132.9L379.4 131.8L381.8 130.8L384.2 129.6L386.4 128.4L388.7 127.3L390.9 126.3L393.2 125.3L395.8 124.4L398.7 123.5L401.7 122.6L404.5 121.8L406.9 121.2L408.6 120.7L407.5 116.2L405.7 116.5L403.3 117L400.4 117.6L397.3 118.3L394.2 119L391.3 119.7L388.7 120.6L386.2 121.5L383.8 122.5L381.4 123.5L379.1 124.4L376.8 125.2L374.5 125.9L372.1 126.7L369.8 127.4L367.5 128.1L365.2 128.6L363 129L360.6 129.4L357.8 129.6L355 129.7L352.3 129.8L350 129.9L348.3 129.9Z" fill="#dc8f8f"/>
<path d="M382.8 129.6L384.1 129.9L386 130.3L388.1 130.7L390.4 131.2L392.6 131.8L394.6 132.3L396.7 133.1L398.9 134L401.2 135L403.4 135.9L405.2 136.8L406.5 137.3L408.3 133.5L407 132.9L405.2 132L403.1 130.9L400.8 129.8L398.5 128.7L396.2 127.8L394 127L391.6 126.3L389.3 125.6L387.2 125.1L385.4 124.6L384.1 124.2Z" fill="#dc8f8f"/>
<path d="M340.9 139.7L341.6 141.3L342.5 143.5L343.5 146.1L344.5 148.9L345.5 151.7L346.3 154.3L347 156.8L347.6 159.4L348.3 162.1L348.8 164.7L349.4 167.3L349.9 169.7L350.5 171.9L351 174.1L351.5 176.2L352 178L352.4 179.5L352.7 180.7L357.6 179.7L357.4 178.5L357.1 176.9L356.9 175.1L356.5 173L356.2 170.8L355.9 168.6L355.6 166.2L355.3 163.7L355 161L354.7 158.1L354.3 155.3L353.9 152.5L353.3 149.6L352.6 146.6L351.9 143.6L351.3 140.8L350.8 138.5L350.5 136.8Z" fill="#dc8f8f"/>
<path d="M352.2 179.6L352.8 180.8L353.7 182.7L354.7 184.8L355.8 187.2L357.1 189.5L358.5 191.7L359.9 193.6L361.5 195.4L363.2 197.1L364.9 198.8L366.7 200.4L368.6 201.9L370.6 203.4L372.9 205L375.2 206.4L377.4 207.7L379.3 208.8L380.6 209.6L382 207.4L380.7 206.5L378.9 205.4L376.8 204L374.6 202.5L372.5 200.9L370.7 199.4L369 197.8L367.4 196.2L365.8 194.6L364.4 192.9L363 191.2L361.8 189.4L360.8 187.5L359.7 185.3L358.8 183L358 180.9L357.3 179L356.8 177.6Z" fill="#dc8f8f"/>
<path d="M354.1 178.6L355.6 178.4L357.7 178.1L360.2 177.8L362.8 177.5L365.3 177.4L367.5 177.5L369.6 177.7L371.7 178.1L373.8 178.6L375.7 179.2L377.3 179.8L378.6 180.6L379.6 181.5L380.4 182.5L381 183.8L381.6 185.2L382 186.5L382.3 187.7L382.4 188.6L382.3 189.5L382.2 190.4L381.9 191.2L381.6 192.1L381.5 192.7L384.2 193.4L384.3 192.9L384.6 192.1L385 191.1L385.3 189.9L385.4 188.5L385.3 187.1L385 185.7L384.6 184.2L384 182.6L383.3 180.9L382.2 179.2L380.7 177.8L379 176.7L377 175.8L374.8 175L372.6 174.3L370.3 173.8L367.9 173.4L365.4 173.2L362.6 173.2L359.9 173.3L357.3 173.4L355.2 173.5L353.7 173.6Z" fill="#dc8f8f"/>
<path d="M328.3 120.9C330 119.6 337.8 125.8 342.5 126C347.2 126.1 354.7 120.5 356.7 121.9C358.7 123.3 354.3 130.8 354.5 134.5C354.7 138.2 359.2 142.5 358 144.3C356.7 146 349.8 143.5 347.2 145.2C344.7 146.9 344.3 154.5 342.5 154.3C340.8 154.2 339.5 146.1 336.9 144.3C334.2 142.4 327.5 144.7 326.8 143C326 141.3 332.2 137.5 332.4 133.9C332.7 130.2 326.7 122.3 328.3 120.9Z" fill="#dc8f8f"/>
<path d="M332.1 125C333.4 124.2 338.7 128.5 342.2 128.5C345.7 128.5 351.7 123.9 353.2 125C354.8 126.2 351.5 132.6 351.7 135.4C351.8 138.3 355.2 140.9 354.2 142C353.2 143.1 347.7 140.9 345.7 142C343.7 143.2 343.5 149 342.2 149C340.9 149 340.1 143.5 338.1 142C336.2 140.6 331.1 141.9 330.6 140.5C330 139.1 334.4 136.1 334.6 133.5C334.9 131 330.9 125.9 332.1 125Z" fill="#e8a8a4"/>
<ellipse cx="343.1" cy="134.5" rx="5.8" ry="4" transform="rotate(-20 343.1 134.5)" fill="#6a3f9c"/>
<rect x="404.3" y="114.3" width="12.5" height="7.6" rx="3.6" fill="#dc8f8f" transform="rotate(72 410.6 118.1)"/>
<rect x="403.7" y="132.3" width="12.5" height="7.6" rx="3.6" fill="#dc8f8f" transform="rotate(58 409.9 136.1)"/>
<rect x="379.1" y="192.1" width="8" height="4.4" rx="2.1" fill="#dc8f8f" transform="rotate(-5 383.1 194.3)"/>
<rect x="378.8" y="207.9" width="8" height="4.4" rx="2.1" fill="#dc8f8f" transform="rotate(-55 382.8 210.1)"/>

<path d="M342.3 236.1L341.7 234.9L341 233.2L340.3 231.1L339.4 229L338.6 226.8L337.9 225L337.2 223.4L336.6 221.9L336 220.4L335.3 218.9L334.6 217.5L333.8 216L332.9 214.5L331.9 213.1L330.9 211.6L329.8 210.2L328.7 208.9L327.5 207.7L326.2 206.6L324.9 205.6L323.6 204.7L322.2 203.9L320.8 203.2L319.4 202.5L317.8 201.9L316.1 201.4L314.4 201L312.8 200.7L311.5 200.4L310.5 200.2L310.1 201.4L311.1 201.8L312.3 202.2L313.9 202.7L315.4 203.4L316.9 204L318.3 204.8L319.4 205.5L320.6 206.4L321.7 207.2L322.8 208.2L323.8 209.2L324.7 210.3L325.5 211.4L326.3 212.7L327.1 214.1L327.8 215.5L328.4 216.9L329 218.3L329.5 219.7L329.9 221L330.3 222.3L330.6 223.8L330.9 225.3L331.3 227L331.7 228.9L332 231L332.4 233.3L332.8 235.4L333 237.2L333.1 238.6Z" fill="#dc8f8f"/>
<path d="M335.3 220.7L335.6 219.7L336.2 218.2L336.9 216.3L337.7 214.3L338.2 212.2L338.5 210.1L338.5 208.2L338.2 206.3L337.8 204.4L337.2 202.6L336.5 200.8L335.6 199L334.5 197.2L333 195.4L331.5 193.6L330 192L328.7 190.7L327.8 189.7L326.9 190.5L327.7 191.5L328.8 193L330.2 194.7L331.5 196.5L332.7 198.4L333.5 200.1L334.1 201.7L334.6 203.3L334.9 205L335.1 206.7L335.2 208.3L335 209.7L334.7 211.2L334 212.9L333.1 214.6L332.2 216.2L331.3 217.6L330.7 218.6Z" fill="#dc8f8f"/>
<path d="M335.7 236.7L334.2 236.9L332.1 237L329.7 237.2L327.2 237.3L324.8 237.3L322.6 237.2L320.6 236.9L318.5 236.5L316.4 236L314.3 235.3L312.3 234.7L310.3 234L308.6 233.3L306.8 232.4L305.1 231.4L303.3 230.5L301.4 229.6L299.4 229L297.2 228.7L294.8 228.6L292.5 228.7L290.4 228.9L288.6 229L287.3 229.1L287.3 230.4L288.6 230.5L290.4 230.6L292.5 230.7L294.7 230.9L296.8 231.3L298.6 231.8L300.1 232.5L301.6 233.4L303.1 234.5L304.7 235.8L306.5 237L308.4 238.1L310.4 239.1L312.4 240.2L314.5 241.2L316.7 242.1L319 243L321.3 243.7L323.9 244.3L326.6 244.8L329.4 245.2L331.8 245.6L333.9 245.9L335.3 246.2Z" fill="#dc8f8f"/>
<path d="M321.2 239.3L319.9 239.9L318 240.7L315.7 241.5L313.4 242.4L311.1 243.3L309 243.9L307.1 244.5L305.3 245L303.5 245.4L301.8 245.8L300.1 246.1L298.3 246.3L296.4 246.4L294.4 246.3L292.3 246.1L290.3 245.9L288.6 245.7L287.4 245.5L287.2 246.7L288.4 247L290.1 247.3L292 247.7L294.2 248.1L296.3 248.4L298.4 248.5L300.3 248.5L302.1 248.3L304 248.1L305.9 247.8L307.8 247.5L309.8 247.1L312 246.6L314.5 246.1L317 245.5L319.3 244.9L321.3 244.4L322.7 244.1Z" fill="#dc8f8f"/>
<path d="M352.4 239.9L353 238.5L353.7 236.7L354.6 234.8L355.5 232.9L356.5 231.3L357.4 230.1L358.4 229.3L359.7 228.5L361.2 227.8L362.8 227.2L364.6 226.7L366.3 226.3L368.1 226.1L370 226L372.1 226.1L374.2 226.2L376.3 226.5L378.3 226.7L380.2 226.9L382.1 227.2L384 227.6L385.8 228L387.7 228.3L389.5 228.5L391.4 228.5L393.3 228.4L395.1 228.3L396.8 228.1L398.2 228L399.2 227.9L399.1 226.6L398.1 226.6L396.7 226.5L395.1 226.5L393.3 226.4L391.5 226.3L389.8 226L388.2 225.6L386.5 225.1L384.8 224.5L382.9 223.9L381 223.3L379 222.8L377 222.3L374.9 221.8L372.7 221.3L370.4 220.9L368.1 220.7L365.8 220.6L363.6 220.8L361.4 221.1L359.2 221.5L357 222.2L354.8 223.1L352.7 224.3L350.6 226.1L348.8 228.2L347.2 230.3L345.8 232.2L344.7 233.8L343.8 234.7Z" fill="#dc8f8f"/>
<path d="M377.1 225.6L377.7 224.8L378.5 223.7L379.4 222.4L380.4 221.1L381.5 219.9L382.6 218.9L383.9 218L385.5 217L387.3 216L389 215.2L390.5 214.5L391.5 213.9L391 212.8L389.9 213.2L388.4 213.7L386.6 214.4L384.6 215.1L382.7 215.8L381.1 216.7L379.6 217.7L378.1 218.8L376.8 220L375.6 221.1L374.6 222L373.9 222.6Z" fill="#dc8f8f"/>
<path d="M360.7 227.6L361.9 228.2L363.7 229.2L365.7 230.4L367.9 231.7L369.9 232.9L371.5 234L372.9 234.9L374.1 235.8L375.2 236.6L376.2 237.3L377.1 238.1L378 238.9L378.8 239.7L379.5 240.7L380.2 241.7L380.7 242.6L381.2 243.4L381.6 243.9L382.6 243.3L382.3 242.7L381.9 241.9L381.4 240.9L380.8 239.8L380.1 238.7L379.4 237.7L378.5 236.7L377.6 235.8L376.7 234.8L375.6 233.9L374.5 232.9L373.2 231.8L371.6 230.5L369.8 229L367.8 227.5L365.9 226L364.4 224.7L363.3 223.8Z" fill="#dc8f8f"/>
<path d="M346.8 250.7L348.5 251.5L350.8 252.7L353.7 254.1L356.9 255.7L360.1 257L363.3 258.1L366.4 258.5L369.3 258.6L371.9 258.4L374.3 258.2L376.5 258L378.5 257.9L380.6 257.9L382.7 258L384.8 258L386.7 258.1L388.7 258.3L390.7 258.6L392.8 259L395.2 259.5L397.7 260.2L400 260.8L402 261.4L403.4 261.8L404.9 257L403.5 256.5L401.6 255.8L399.3 255L396.8 254.1L394.3 253.3L391.9 252.6L389.6 252.1L387.5 251.8L385.3 251.5L383.2 251.2L381.1 251L378.8 250.8L376.3 250.7L373.9 250.7L371.6 250.7L369.4 250.7L367.4 250.4L365.6 250L363.6 249.1L361 247.6L358.4 246L355.8 244.3L353.6 242.7L352 241.6Z" fill="#dc8f8f"/>
<path d="M380.8 257.3L381.9 258L383.3 259L384.9 260.2L386.5 261.5L388 262.9L389.3 264.1L390.4 265.5L391.5 267.3L392.5 269.1L393.5 270.9L394.3 272.5L395 273.6L398.9 271.6L398.3 270.5L397.6 268.9L396.7 266.9L395.7 264.9L394.5 262.8L393.2 260.9L391.8 259.2L390.1 257.5L388.4 256L386.8 254.6L385.6 253.5L384.7 252.6Z" fill="#dc8f8f"/>
<path d="M336.8 246.2L336.4 248.2L335.8 250.9L335.1 254.1L334.3 257.5L333.5 260.8L332.8 263.9L332.1 266.6L331.4 269.2L330.7 271.9L330 274.6L329.4 277.4L329 280.3L328.8 283.1L328.6 285.8L328.6 288.6L328.8 291.4L329 294.1L329.3 296.8L329.8 299.6L330.4 302.4L331.1 305.1L331.9 307.8L332.7 310.4L333.5 312.9L334.4 315.4L335.5 318.1L336.6 320.6L337.6 322.8L338.5 324.7L339.1 326.1L342 324.9L341.5 323.5L340.8 321.5L339.9 319.2L339.1 316.7L338.2 314.1L337.5 311.7L336.9 309.2L336.3 306.6L335.8 304L335.4 301.4L335 298.8L334.8 296.2L334.7 293.7L334.7 291.2L334.8 288.7L335 286.2L335.3 283.8L335.7 281.3L336.3 278.9L337 276.6L337.9 274.1L338.8 271.6L339.8 268.9L340.7 266.2L341.8 263.2L342.9 260L344.1 256.7L345.2 253.6L346.1 251L346.9 249.2Z" fill="#dc8f8f"/>
<path d="M332.6 286.1L333.8 286.6L335.5 287.5L337.4 288.4L339.4 289.5L341.4 290.6L343.2 291.6L344.7 292.5L346.3 293.4L347.8 294.2L349.2 295.1L350.6 295.9L352 296.7L353.2 297.5L354.5 298.3L355.8 299.1L356.9 299.8L357.8 300.4L358.5 300.8L359.2 299.8L358.5 299.3L357.7 298.6L356.6 297.8L355.5 296.9L354.3 296L353.1 295.1L351.9 294.1L350.6 293.2L349.2 292.1L347.8 291.1L346.4 290L344.9 288.9L343.2 287.7L341.4 286.4L339.5 285L337.8 283.7L336.3 282.6L335.3 281.8Z" fill="#dc8f8f"/>
<path d="M344.5 292.7L345 293.9L345.6 295.5L346.3 297.4L346.9 299.4L347.4 301.3L347.7 302.9L347.7 304.5L347.6 306.2L347.3 307.9L346.9 309.5L346.6 310.9L346.4 312L349.2 312.6L349.4 311.6L349.8 310.2L350.2 308.5L350.7 306.7L351 304.7L351 302.7L350.8 300.7L350.4 298.5L349.8 296.3L349.3 294.3L348.8 292.7L348.5 291.5Z" fill="#dc8f8f"/>
<path d="M327.6 228.5C329.3 227.2 337.1 232.2 341.8 232C346.5 231.7 354 225.5 356 226.9C358 228.3 353.3 236.5 353.8 240.5C354.3 244.5 360 249.1 358.8 250.9C357.7 252.6 349.8 249.3 346.9 250.9C343.9 252.4 343 260.1 341.2 260C339.4 259.9 338.6 252.4 336.1 250.2C333.7 248 327.1 248.6 326.4 246.8C325.7 245 331.8 242.6 332 239.5C332.3 236.5 326 229.8 327.6 228.5Z" fill="#dc8f8f"/>
<path d="M331.4 231.7C332.7 230.8 338.2 234.3 341.8 234.2C345.4 234 351.2 229.6 352.8 230.7C354.5 231.9 351.2 238.1 351.6 241.1C352 244.1 356.3 247.4 355.4 248.7C354.4 249.9 348.3 247.5 345.9 248.7C343.5 249.8 342.7 255.7 341.2 255.6C339.7 255.4 339.1 249.6 337.1 247.7C335 245.8 329.4 245.7 328.9 244.3C328.4 242.8 333.5 241.3 333.9 239.2C334.4 237.1 330.1 232.5 331.4 231.7Z" fill="#e8a8a4"/>
<ellipse cx="342.1" cy="241.4" rx="6" ry="4" transform="rotate(-12 342.1 241.4)" fill="#6a3f9c"/>
<rect x="399.9" y="257.6" width="13" height="8" rx="3.8" fill="#dc8f8f" transform="rotate(-38 406.4 261.6)"/>
<rect x="392" y="270.8" width="13" height="8" rx="3.8" fill="#dc8f8f" transform="rotate(-32 398.5 274.8)"/>
<rect x="336.1" y="325.1" width="9" height="4.6" rx="2.2" fill="#dc8f8f" transform="rotate(-15 340.6 327.4)"/>
<rect x="343.5" y="311.3" width="8" height="4.4" rx="2.1" fill="#dc8f8f" transform="rotate(-30 347.5 313.5)"/>
<rect x="377.3" y="148.4" width="15.4" height="6.8" rx="3.2" fill="#da551f" transform="rotate(-14 385 151.8)"/>
<rect x="398.6" y="175.8" width="15.4" height="6.8" rx="3.2" fill="#da551f" transform="rotate(-88 406.3 179.2)"/>
<rect x="428.8" y="193.9" width="15.4" height="6.8" rx="3.2" fill="#da551f" transform="rotate(-14 436.5 197.3)"/>
<rect x="448.8" y="222.1" width="15.4" height="6.8" rx="3.2" fill="#da551f" transform="rotate(60 456.5 225.5)"/>
<line x1="414.3" y1="156" x2="439.6" y2="88.2" stroke="#000" stroke-width="2"/><path d="M443.3 78.4L443.6 90.8L439.6 88.4L435 87.6Z" fill="#000"/>
<path d="M394.6 62V70.2M390.8 66.4L394.6 70.2L398.4 66.4" fill="none" stroke="#c0202a" stroke-width="1.9" stroke-linecap="round" stroke-linejoin="round"/>
<path d="M506.7 46.5L506.7 47.9L506.7 49.8L506.7 51.9L506.7 54.4L506.7 57L506.7 59.7L506.7 62.3L506.7 64.9L506.7 67.3L506.7 69.4L506.7 71.3L506.6 73L506.6 74.7L506.6 76.3L506.6 77.8L506.6 79.3L506.5 80.8L506.3 82.2L506.2 83.7L505.9 85.2L505.6 86.6L505.3 88.1L504.9 89.5L504.6 90.9L504.1 92.3L503.7 93.7L503.1 95L502.4 96.4L501.7 97.7L500.8 99L499.8 100.2L498.6 101.5L497.4 102.7L496.1 103.9L494.7 105.1L493.2 106.2L491.7 107.4L490.1 108.5L488.6 109.6L487 110.8L485.4 111.9L483.7 113L481.9 114L480.1 115.1L478.2 116.1L476.4 117.1L474.5 118.2L472.7 119.2L471 120.3L469.3 121.4L467.6 122.5L465.9 123.6L464.2 124.8L462.5 125.9L460.9 127L459.3 128.2L457.7 129.4L456.2 130.6L454.8 131.9L453.5 133.2L452.2 134.6L451 136L449.9 137.5L448.8 139L447.8 140.6L446.8 142.1L445.9 143.7L445.1 145.2L444.3 146.7L443.6 148.2L443 149.6L442.5 151.1L442 152.5L441.6 154L441.3 155.4L441 156.8L440.8 158.1L440.6 159.5L440.5 160.7L440.5 162L440.5 163.2L440.6 164.4L440.8 165.6L441 166.7L441.3 167.8L441.6 168.8L442 169.9L442.5 170.8L443 171.8L443.6 172.6L444.3 173.4L445.1 174.2L446 174.9L446.9 175.5L447.9 176.1L448.9 176.7L450 177.2L450.5 177.4L451.4 175.3L452.8 173.4L454.6 172L456.7 171L459 170.5L461.3 170.6L463.5 171.2L465.5 172.3L467.2 173.9L468.5 175.9L469.2 178L469.4 180.3L469.1 182.6L468.3 184.8L468.8 185.1L470.3 185.7L471.9 186.3L473.4 187L475 187.7L476.6 188.3L478.3 189L479.9 189.6L481.5 190.2L483 190.8L484.6 191.3L486.1 191.8L487.6 192.3L489.2 192.8L490.7 193.3L492.2 193.8L493.8 194.2L495.4 194.7L497.1 195.1L498.8 195.5L500.6 196L501.3 194.3L502.3 192.7L503.7 191.4L505.3 190.4L507.1 189.7L509 189.4L510.8 189.5L512.7 190L514.4 190.8L515.9 192L517.1 193.4L518 195.1L518.5 196.9L518.7 198.8L520.5 198.8L522.5 199L524.5 199.1L526.5 199.3L528.5 199.4L530.5 199.4L532.4 199.5L534.4 199.5L536.3 199.5L538.2 199.4L540.1 199.3L541.9 199.2L543.7 199L545.4 198.8L547.2 198.5L548.9 198.3L550.7 198L552.4 197.7L554.2 197.4L555.9 197.1L557.7 196.7L559.4 196.3L559.1 194.1L559.3 191.9L560 189.8L561.1 187.9L562.7 186.3L564.5 185.1L566.6 184.3L568.8 184.1L571 184.3L573.1 185L575 186.2L576.6 187.7L577.8 189.6L578.5 191.7L580.1 191.3L581.7 190.9L583.2 190.4L584.8 189.9L586.3 189.4L587.9 188.9L589.4 188.4L591 187.9L592.6 187.4L594.2 186.8L595.8 186.3L597.4 185.8L599 185.2L600.6 184.7L602.2 184.1L603.7 183.5L605.2 182.9L606.7 182.2L608.1 181.6L609.6 180.9L610.7 180.6L610.4 179L610.3 177.5L610.6 175.9L611.2 174.5L612 173.1L613 172L614.3 171.1L615.7 170.4L617.2 170L618.8 169.9L620.3 170.1L621.8 170.5L623.2 171.3L624.4 172.3L624.5 172.1L625.5 171.4L626.4 170.6L627.3 169.7L628.1 168.9L628.8 167.9L629.5 166.9L630.1 165.8L630.7 164.7L631.2 163.6L631.6 162.4L632 161.1L632.3 159.9L632.5 158.6L632.7 157.4L632.8 156.1L632.8 154.8L632.7 153.5L632.6 152.1L632.4 150.7L632.1 149.3L631.8 147.9L631.3 146.5L630.8 145.1L630.3 143.7L629.6 142.3L628.9 140.9L628 139.5L627.1 138.1L626.1 136.6L625.1 135.2L624 133.8L622.8 132.4L621.6 131.1L620.3 129.8L619 128.5L617.6 127.3L616.2 126.1L614.7 124.9L613.1 123.8L611.5 122.7L609.9 121.6L608.2 120.6L606.6 119.5L604.9 118.5L603.2 117.5L601.5 116.5L599.7 115.5L597.9 114.6L596 113.7L594.2 112.7L592.3 111.8L590.5 110.9L588.7 110L587.1 109L585.5 108L584 107L582.5 106L581.1 104.9L579.7 103.8L578.4 102.8L577.2 101.7L576 100.5L574.9 99.4L573.8 98.2L572.9 97L572 95.7L571.2 94.4L570.6 93L570 91.7L569.4 90.3L568.9 88.8L568.5 87.4L568.1 86L567.7 84.6L567.4 83.2L567.1 81.9L566.8 80.6L566.7 79.3L566.5 78.1L566.4 76.9L566.4 75.6L566.3 74.2L566.3 72.7L566.2 71.1L566.2 69.4L566.1 67.4L566 65L566 62.5L565.9 59.8L565.9 57.1L565.9 54.5L565.8 52L565.8 49.8L565.8 47.9L565.8 46.5Z" fill="#a9c698" stroke="#55824a" stroke-width="1.5" stroke-linejoin="round"/>
<path d="M514.6 47.3C514.8 49 515.9 54.2 515.7 57.6C515.6 60.9 513.8 64.3 513.8 67.4C513.7 70.6 515.1 75 515.4 76.5" fill="none" stroke="#94b683" stroke-width="0.6"/>
<path d="M523.2 47.3C523.4 49 524.5 54.2 524.4 57.6C524.3 60.9 522.5 64.3 522.4 67.4C522.4 70.6 523.8 75 524 76.5" fill="none" stroke="#94b683" stroke-width="0.6"/>
<path d="M532.3 47.3C532.5 49 533.6 54.2 533.5 57.6C533.3 60.9 531.6 64.3 531.5 67.4C531.4 70.6 532.8 75 533.1 76.5" fill="none" stroke="#94b683" stroke-width="0.6"/>
<path d="M540.2 47.3C540.4 49 541.5 54.2 541.4 57.6C541.2 60.9 539.5 64.3 539.4 67.4C539.3 70.6 540.7 75 541 76.5" fill="none" stroke="#94b683" stroke-width="0.6"/>
<path d="M549.2 47.3C549.4 49 550.5 54.2 550.4 57.6C550.3 60.9 548.5 64.3 548.4 67.4C548.4 70.6 549.8 75 550 76.5" fill="none" stroke="#94b683" stroke-width="0.6"/>
<path d="M557.9 47.3C558.1 49 559.2 54.2 559.1 57.6C559 60.9 557.2 64.3 557.1 67.4C557.1 70.6 558.4 75 558.7 76.5" fill="none" stroke="#94b683" stroke-width="0.6"/>
<circle cx="478.3" cy="161.6" r="9.4" fill="#f0d033" stroke="#8a5a1e" stroke-width="2.3"/>
<circle cx="482.8" cy="163" r="2.7" fill="#f7de4e" stroke="#cfa51e" stroke-width="0.6"/>
<circle cx="479.4" cy="166.2" r="2.7" fill="#f7de4e" stroke="#cfa51e" stroke-width="0.6"/>
<circle cx="474.9" cy="164.8" r="2.7" fill="#f7de4e" stroke="#cfa51e" stroke-width="0.6"/>
<circle cx="473.8" cy="160.2" r="2.7" fill="#f7de4e" stroke="#cfa51e" stroke-width="0.6"/>
<circle cx="477.3" cy="157" r="2.7" fill="#f7de4e" stroke="#cfa51e" stroke-width="0.6"/>
<circle cx="481.8" cy="158.4" r="2.7" fill="#f7de4e" stroke="#cfa51e" stroke-width="0.6"/>
<circle cx="478.3" cy="161.6" r="2.7" fill="#f7de4e" stroke="#cfa51e" stroke-width="0.6"/>
<circle cx="520.1" cy="172.2" r="9.4" fill="#f0d033" stroke="#8a5a1e" stroke-width="2.3"/>
<circle cx="524.6" cy="173.6" r="2.7" fill="#f7de4e" stroke="#cfa51e" stroke-width="0.6"/>
<circle cx="521.1" cy="176.8" r="2.7" fill="#f7de4e" stroke="#cfa51e" stroke-width="0.6"/>
<circle cx="516.6" cy="175.4" r="2.7" fill="#f7de4e" stroke="#cfa51e" stroke-width="0.6"/>
<circle cx="515.6" cy="170.8" r="2.7" fill="#f7de4e" stroke="#cfa51e" stroke-width="0.6"/>
<circle cx="519" cy="167.7" r="2.7" fill="#f7de4e" stroke="#cfa51e" stroke-width="0.6"/>
<circle cx="523.5" cy="169" r="2.7" fill="#f7de4e" stroke="#cfa51e" stroke-width="0.6"/>
<circle cx="520.1" cy="172.2" r="2.7" fill="#f7de4e" stroke="#cfa51e" stroke-width="0.6"/>
<circle cx="568.1" cy="169.1" r="9.4" fill="#f0d033" stroke="#8a5a1e" stroke-width="2.3"/>
<circle cx="572.6" cy="170.5" r="2.7" fill="#f7de4e" stroke="#cfa51e" stroke-width="0.6"/>
<circle cx="569.2" cy="173.7" r="2.7" fill="#f7de4e" stroke="#cfa51e" stroke-width="0.6"/>
<circle cx="564.7" cy="172.3" r="2.7" fill="#f7de4e" stroke="#cfa51e" stroke-width="0.6"/>
<circle cx="563.7" cy="167.7" r="2.7" fill="#f7de4e" stroke="#cfa51e" stroke-width="0.6"/>
<circle cx="567.1" cy="164.5" r="2.7" fill="#f7de4e" stroke="#cfa51e" stroke-width="0.6"/>
<circle cx="571.6" cy="165.9" r="2.7" fill="#f7de4e" stroke="#cfa51e" stroke-width="0.6"/>
<circle cx="568.1" cy="169.1" r="2.7" fill="#f7de4e" stroke="#cfa51e" stroke-width="0.6"/>
<circle cx="609.1" cy="149.8" r="9.4" fill="#f0d033" stroke="#8a5a1e" stroke-width="2.3"/>
<circle cx="613.6" cy="151.2" r="2.7" fill="#f7de4e" stroke="#cfa51e" stroke-width="0.6"/>
<circle cx="610.2" cy="154.4" r="2.7" fill="#f7de4e" stroke="#cfa51e" stroke-width="0.6"/>
<circle cx="605.7" cy="153" r="2.7" fill="#f7de4e" stroke="#cfa51e" stroke-width="0.6"/>
<circle cx="604.6" cy="148.4" r="2.7" fill="#f7de4e" stroke="#cfa51e" stroke-width="0.6"/>
<circle cx="608.1" cy="145.2" r="2.7" fill="#f7de4e" stroke="#cfa51e" stroke-width="0.6"/>
<circle cx="612.6" cy="146.6" r="2.7" fill="#f7de4e" stroke="#cfa51e" stroke-width="0.6"/>
<circle cx="609.1" cy="149.8" r="2.7" fill="#f7de4e" stroke="#cfa51e" stroke-width="0.6"/>
<circle cx="509.8" cy="202.2" r="4" fill="#f6d93c" stroke="#c8a21e" stroke-width="0.8"/>
<circle cx="519.3" cy="221.1" r="4" fill="#f6d93c" stroke="#c8a21e" stroke-width="0.8"/>
<circle cx="567.8" cy="193.1" r="4" fill="#f6d93c" stroke="#c8a21e" stroke-width="0.8"/>
<circle cx="576" cy="210.9" r="4" fill="#f6d93c" stroke="#c8a21e" stroke-width="0.8"/>
<circle cx="596.1" cy="228.6" r="4" fill="#f6d93c" stroke="#c8a21e" stroke-width="0.8"/>
<g transform="translate(459.8 262.6) rotate(-22) scale(1.0)"><path d="M0 0V-6.4M-7.6 -11.6C-6.4 -8.4 -3 -6.6 0 -6.4C3 -6.6 6.4 -8.4 7.6 -11.6" fill="none" stroke="#1f4f90" stroke-width="2.7" stroke-linecap="round" stroke-linejoin="round"/></g>
<g transform="translate(484 256.2) rotate(0) scale(1.0)"><path d="M0 0V-6.4M-7.6 -11.6C-6.4 -8.4 -3 -6.6 0 -6.4C3 -6.6 6.4 -8.4 7.6 -11.6" fill="none" stroke="#1f4f90" stroke-width="2.7" stroke-linecap="round" stroke-linejoin="round"/></g>
<rect x="522.2" y="232" width="9.6" height="25.4" rx="4.4" fill="#a3cf8d" stroke="#70ad57" stroke-width="1.1"/>
<rect x="535.4" y="232" width="9.6" height="25.4" rx="4.4" fill="#a3cf8d" stroke="#70ad57" stroke-width="1.1"/>
<rect x="529.8" y="238" width="7.4" height="12" fill="#8fc078"/>
<g transform="translate(582.2 260.4) rotate(2)"><path d="M0 0.5V-8M0 -7.6L-5.8 -16.6M0 -7.6L6.2 -15.6" fill="none" stroke="#9b1e2b" stroke-width="3.7" stroke-linecap="round" stroke-linejoin="round"/></g>
<g transform="translate(600.2 262.4) rotate(12)"><path d="M0 0.5V-8M0 -7.6L-5.8 -16.6M0 -7.6L6.2 -15.6" fill="none" stroke="#9b1e2b" stroke-width="3.7" stroke-linecap="round" stroke-linejoin="round"/></g>
<rect x="674.2" y="194.2" width="214.2" height="178.3" rx="5.5" fill="url(#gBox)"/>
<path d="M699.8 314.8C698.6 315 694.7 316.4 692.7 316.4C690.7 316.5 688.9 315.8 688 315C687.1 314.2 686.6 312.7 687.3 311.7C687.9 310.7 689.7 309.6 692 309.1C694.3 308.6 697.9 308.9 701 308.9C704 308.9 707.3 309.2 710.4 309.1C713.6 309 717.2 308.8 719.9 308.4C722.5 308 726.3 307.7 726.5 306.7C726.7 305.8 723.3 304.2 721 303C718.8 301.8 715.5 299.9 712.8 299.4C710 298.9 707.3 299.7 704.5 299.9C701.8 300.1 699.2 300.7 696.2 300.8C693.3 301 689.3 301 686.8 300.6C684.3 300.2 682.1 299.2 681.4 298.2C680.7 297.3 680.9 295.8 682.6 295.2C684.2 294.6 688.5 294.9 691.5 294.7C694.6 294.5 697.8 294.2 701 293.8C704.1 293.4 708.1 293.1 710.4 292.3C712.8 291.6 715.2 290.1 715.1 289.3C715.1 288.5 712.3 287.7 709.9 287.4C707.6 287 703.8 287.3 701 287.2C698.1 287 694.6 287 692.7 286.4C690.9 285.9 689.9 284.9 689.9 284.1C689.9 283.3 690.9 281.8 692.7 281.5C694.6 281.1 698 281.6 701 282C703.9 282.4 707.9 284.2 710.4 283.8C713 283.5 715.1 281.8 716.3 280.1C717.6 278.3 717.6 275.5 718 273.5C718.4 271.4 718 268.8 718.7 267.6C719.4 266.3 721.4 265.2 722.2 266.1C723 267.1 723.3 270.7 723.6 273.5C723.9 276.3 723.6 280.2 724.1 282.9C724.6 285.6 725.2 288.1 726.5 289.5C727.7 290.9 730.1 291.7 731.7 291.4C733.2 291.1 735.3 289.4 735.9 287.6C736.5 285.8 735.7 282.9 735.2 280.5C734.7 278.2 733.3 276.2 732.8 273.5C732.4 270.7 732.2 267 732.4 264C732.6 261.1 733.3 257.9 734 255.8C734.8 253.6 735.9 251.6 736.9 251C737.8 250.4 739.3 251 739.7 252.2C740.1 253.4 739.4 256.4 739.2 258.1C739.1 259.8 738.2 261.4 738.7 262.4C739.3 263.3 741.7 262.2 742.5 264C743.3 265.9 743.2 270.5 743.5 273.5C743.7 276.4 743.5 279.6 743.9 281.7C744.4 283.9 745 285.8 746.3 286.4C747.6 287.1 750.1 286.3 751.7 285.7C753.3 285.1 755.1 284.8 756 282.9C756.8 281.1 756.9 278.2 756.7 274.6C756.5 271.1 755.9 265.5 754.8 261.7C753.7 257.8 752 254.3 750.1 251.7C748.2 249.2 745.9 247.9 743.5 246.3C741 244.7 737.4 243.4 735.2 242.3C733 241.2 730.4 240.3 730.2 239.5C730 238.6 733.1 238.1 734 237.1C735 236.2 734.7 234.1 735.9 233.8C737.1 233.5 739.1 234.5 741.1 235.2C743.1 235.9 745.8 236.8 748.2 238.1C750.5 239.3 753.3 241 755.3 242.8C757.2 244.5 758.5 247.5 760 248.7C761.5 249.9 763.2 250.4 764.2 249.9C765.3 249.3 766.1 247.4 766.1 245.6C766.1 243.8 765.6 241.2 764.2 239.2C762.9 237.3 760.1 235.5 758.1 233.8C756.1 232.1 752.7 230.3 752.4 229.1C752.2 227.8 754.6 226.2 756.4 226.2C758.3 226.2 761.4 228.1 763.5 229.1C765.7 230.1 768 232.1 769.4 232.4C770.9 232.7 772.1 232.2 772.3 231C772.5 229.7 771.6 227 770.6 225.1C769.7 223.1 767 220.9 766.6 219.2C766.2 217.5 767.2 215.5 768.2 214.9C769.3 214.3 771.5 214.7 773 215.6C774.4 216.5 775.7 218.9 777 220.3C778.3 221.8 780.1 223.7 780.8 224.4C781.4 225.1 781.5 225.1 781.1 224.5C780.7 223.9 779.3 222 778.3 220.7C777.3 219.5 776.3 218 775.1 217C773.9 215.9 772.4 214.4 771 214.4C769.7 214.4 767.3 215.6 766.9 217C766.6 218.3 767.8 220.5 768.8 222.3C769.9 224.1 771.5 226.8 773.2 227.7C774.9 228.6 776.6 228.8 778.9 227.7C781.1 226.5 784.7 222.4 786.8 220.7C788.9 219.1 790.3 217.3 791.5 217.6C792.6 217.9 793.8 220.1 793.7 222.3C793.6 224.5 792.7 228.2 790.8 230.8C789 233.4 785.3 236.7 782.7 237.7C780 238.8 776.9 237.9 775.1 237.1C773.3 236.3 772 234.1 772 232.7C772 231.3 773.2 229.8 775.1 228.9C777 228.1 780.6 228.1 783.6 227.7C786.6 227.2 790.8 226.4 793.1 226.4C795.3 226.4 796.3 226.4 797.1 227.7C798 228.9 797.6 232.5 798.4 234C799.2 235.4 800.8 236.9 802.2 236.5C803.5 236.1 805 232.5 806.6 231.4C808.2 230.4 810.5 229.9 811.6 230.2C812.8 230.5 814 232 813.5 233.3C813 234.6 810.9 236.4 808.8 238.1C806.7 239.7 803.5 241.8 800.9 243.4C798.3 245 796.1 246.9 793.1 247.5C790 248.1 785.7 247 782.7 247.2C779.7 247.3 777.4 246.8 775.1 248.4C772.8 250.1 770.5 253.4 768.8 256.9C767.1 260.5 765.5 265.1 764.7 269.5C764 274 763.7 280.1 764.4 283.7C765.1 287.3 766.5 289.8 768.8 291.2C771.1 292.7 775.8 292.6 778.3 292.2C780.7 291.8 783.3 290.7 783.3 288.7C783.3 286.8 779.7 283.7 778.3 280.5C776.8 277.3 774.9 273.3 774.5 269.5C774.1 265.7 774.5 260.9 775.7 257.9C777 254.9 779.1 252.8 782 251.6C784.9 250.4 790.2 250.5 793.1 250.6C795.9 250.7 798.9 251.2 799 252.2C799.2 253.3 795.5 254.1 794 256.9C792.5 259.8 791.6 265.1 790.2 269.5C788.9 274 786.9 279.2 785.8 283.7C784.7 288.1 783.4 292.8 783.6 296.3C783.8 299.7 785.1 302.9 787.1 304.5C789 306 792.7 306.5 795.3 305.7C797.8 305 800.7 302.6 802.2 300.1C803.6 297.5 804.3 293.9 804.1 290.6C803.9 287.4 801.5 284.1 800.9 280.5C800.3 277 800.2 272.6 800.6 269.5C801 266.5 802.1 263.7 803.4 262.3C804.7 260.9 807.1 260.2 808.5 261C809.9 261.9 811.4 263.8 811.9 267.3C812.5 270.8 811.5 278.5 811.9 282.1C812.4 285.7 813.6 288.1 814.8 289C816 289.9 818.3 289.7 819.2 287.5C820 285.3 819.5 279.9 819.8 275.8C820.1 271.8 820 266.5 821.1 263.2C822.1 259.9 824.1 257.4 826.1 256C828.1 254.6 831.2 253.9 833 254.7C834.9 255.6 836.7 258.2 837.1 261C837.5 263.9 836.2 268.6 835.5 271.7C834.9 274.9 832.5 278.4 833 279.9C833.5 281.4 836.8 280.4 838.7 280.5C840.6 280.6 843 279.6 844.4 280.5C845.7 281.5 847.4 284.2 846.9 286.2C846.3 288.2 844 290.8 841.2 292.5C838.4 294.2 833.9 295.1 829.9 296.3C825.9 297.4 820.5 298.3 817.3 299.4C814 300.6 811.1 301.8 810.4 303.2C809.6 304.6 810.8 306.7 812.9 307.6C815 308.6 819.3 308.9 823 308.9C826.6 308.8 831.7 308.6 834.9 307.3C838.2 306 839.7 302.6 842.5 301.3C845.2 300 847.3 299.7 851.3 299.4C855.3 299.1 863.2 298.9 866.4 299.4C869.5 300 870.5 301.7 870.2 302.9C869.9 304 867.6 305.6 864.5 306.4C861.4 307.1 855.2 306.9 851.3 307.6C847.4 308.3 845.9 310 841.2 310.8C836.5 311.5 829.4 311.8 823 312C816.5 312.2 807.9 311.7 802.5 312C797.1 312.3 792.8 313 790.5 313.9C788.3 314.9 787.8 316.5 789 317.7C790.2 318.8 792.1 320.2 797.8 320.8C803.4 321.5 814.6 322.1 823 321.5C831.3 320.8 840.5 318.4 848.1 317.1C855.7 315.7 863.5 313.6 868.6 313.6C873.7 313.6 877.1 315.1 878.7 317.1C880.2 319 879.7 323.2 877.7 325.2C875.8 327.3 873.5 328.6 867 329.3C860.5 330 847.1 329.8 838.7 329.3C830.3 328.9 823.4 327 816.7 326.5C809.9 326 802.8 326 798.4 326.5C794 327 791.9 328.2 790.2 329.6C788.5 331.1 787.6 333.5 788.3 335.3C789.1 337.1 789.9 339 794.6 340.3C799.3 341.7 809.3 343.4 816.7 343.5C824 343.6 832 341.5 838.7 341C845.4 340.5 852.9 339.7 856.9 340.3C861 341 862.6 343.3 863.2 345.1C863.9 346.9 862.7 349.6 860.7 351C858.7 352.5 855.7 353.5 851.3 353.6C846.8 353.7 839.2 351.9 834 351.7C828.7 351.5 822.2 352.2 819.8 352.3" fill="none" stroke="#d02a2a" stroke-width="1.45" stroke-linejoin="round" stroke-linecap="round"/>
<path d="M699.9 101.2C700.4 98.8 701.7 96.3 703.8 94.7C705.9 93 709.8 91.2 712.5 91.4C715.2 91.6 718.4 93.2 720.1 95.7C721.7 98.3 721.7 102.4 722.2 106.6C722.8 110.7 722.6 116.1 723.3 120.6C724 125.2 725.7 129.3 726.6 133.6C727.5 138 729.1 144.1 728.7 146.6C728.4 149.2 726 149.3 724.4 148.8C722.8 148.3 721 146.6 719 143.4C717 140.1 714.7 133.8 712.5 129.3C710.3 124.8 707.9 119.7 706 116.3C704.1 112.9 702.2 111.3 701.2 108.7C700.2 106.2 699.5 103.5 699.9 101.2Z" fill="#2f9a3f"/>
<path d="M745 95.7C746.2 91.9 749.1 91.8 751.5 91.4C753.8 91 757 91.9 759.1 93.6C761.1 95.2 763.3 98.4 764 101.2C764.8 103.9 764.4 106.9 763.4 109.8C762.4 112.7 759.8 114.9 758 118.5C756.2 122.1 754.2 127.3 752.6 131.5C750.9 135.6 749.9 140.8 748.2 143.4C746.6 146 744.4 147.1 742.8 147.1C741.3 147.1 739.1 146.3 738.9 143.4C738.7 140.4 740.9 134.2 741.7 129.3C742.6 124.4 743.4 119.7 743.9 114.1C744.4 108.6 743.7 99.5 745 95.7Z" fill="#2f9a3f"/>
<path d="M720.7 92.5C721.1 90.2 722.5 87.9 724.4 86.4C726.3 84.9 729.5 83.5 732 83.4C734.5 83.2 737.5 84 739.6 85.6C741.7 87.1 744 90.1 744.5 92.5C745.1 94.9 744.9 98.4 742.8 100.1C740.7 101.7 735.4 102.2 732 102.2C728.6 102.2 724.1 101.7 722.2 100.1C720.4 98.4 720.4 94.8 720.7 92.5Z" fill="#c11f6e"/>
<path d="M733.1 97.9C734.8 95.6 738.9 95.6 741.7 95.7C744.5 95.9 748 97.2 749.7 99C751.4 100.8 751.9 103.7 751.9 106.6C751.9 109.5 750.9 113.1 749.7 116.3C748.6 119.6 746.3 122.6 745 126.1C743.6 129.5 742.8 133.5 741.7 136.9C740.6 140.3 739.8 144.7 738.5 146.6C737.1 148.6 734.9 149.5 733.7 148.8C732.6 148.1 731.8 146.3 731.5 142.3C731.3 138.3 732 130.4 732 125C732 119.6 731.4 114.3 731.5 109.8C731.7 105.3 731.4 100.2 733.1 97.9Z" fill="#c11f6e"/>
<path d="M710.3 104.4C710.3 101.5 710.7 99.5 712.5 97.9C714.3 96.4 718.2 95.2 721.2 95.1C724.1 95 728.1 95.7 730.2 97.3C732.4 98.8 733.7 101.8 734.1 104.4C734.6 107 733.5 109.6 733.1 113.1C732.6 116.5 731.4 120.8 731.5 125C731.7 129.1 733.3 134.2 733.7 138C734.1 141.8 734.9 145.6 734.1 147.7C733.4 149.9 731 151 729.4 151C727.8 151 725.6 150.2 724.4 147.7C723.2 145.2 723.3 139.6 722.2 135.8C721.2 132 719.5 128.4 717.9 125C716.4 121.5 714.2 118.7 712.9 115.2C711.7 111.8 710.4 107.3 710.3 104.4Z" fill="#283c9a"/>
<line x1="762.6" y1="97.3" x2="814.8" y2="52.4" stroke="#000" stroke-width="2"/><path d="M822.8 45.6L817.1 56.6L814.7 52.6L811.1 49.6Z" fill="#000"/>
<rect x="953.2" y="43" width="15" height="31" fill="url(#gArrow)"/><path d="M942 73.2H979L960.6 91.3Z" fill="#b8222a"/>
<path d="M995.1 172.4C996.9 175.4 1003 183 1006.1 190.3C1009.2 197.7 1012.4 207.3 1013.5 216.5C1014.7 225.7 1015.3 236.1 1013 245.4C1010.7 254.7 1006.5 265.6 999.8 272.4C993 279.2 981.2 286.3 972.2 286.2C963.1 286.1 950.6 275.9 945.5 271.6C940.3 267.3 942 262.4 941.3 260.6" fill="none" stroke="#6a2c93" stroke-width="3"/>
<path d="M964.3 127.5L963.5 126.5L962.6 125L961.7 123.2L960.7 121.3L959.8 119.5L959.1 117.8L958.6 116.3L958.1 114.9L957.7 113.5L957.4 112.1L957.2 110.7L957 109.3L956.9 107.9L957.1 106.4L957.3 104.8L957.4 103.2L957.4 101.7L957.1 100.1L956.4 98.7L955.5 97.4L954.3 96.2L953.2 95.1L952.3 94.3L951.7 93.6L951 94.3L951.6 95L952.5 95.9L953.5 97L954.4 98.2L955.2 99.4L955.7 100.6L955.9 101.7L955.8 103.1L955.5 104.5L955.2 106.1L954.9 107.7L954.9 109.4L954.9 110.9L955.1 112.4L955.3 114L955.6 115.5L955.9 117.1L956.3 118.7L956.9 120.6L957.6 122.6L958.3 124.7L959 126.6L959.6 128.3L959.8 129.5Z" fill="#6a2c93"/>
<path d="M956.7 118.5L956 118.4L955.1 118.2L953.9 117.9L952.7 117.6L951.4 117.3L950.2 117L949 116.9L947.8 116.8L946.7 116.8L945.5 116.7L944.4 116.5L943.3 116.2L942.1 115.6L940.8 114.8L939.4 113.9L938.1 112.9L937 112.1L936.2 111.6L935.7 112.2L936.5 112.8L937.6 113.6L938.8 114.6L940.2 115.6L941.6 116.6L942.9 117.3L944.1 117.7L945.4 117.9L946.6 118.1L947.7 118.2L948.8 118.3L949.9 118.5L951 118.8L952.2 119.2L953.4 119.6L954.5 120L955.5 120.3L956.1 120.6Z" fill="#6a2c93"/>
<path d="M942.4 116.2L941.9 116.2L941.1 116.1L940.2 116L939.2 115.9L938.2 115.8L937.2 115.8L936.3 116L935.2 116.2L934.3 116.5L933.3 116.8L932.6 117L932 117.2L932.2 117.8L932.8 117.7L933.5 117.4L934.4 117.2L935.4 116.9L936.4 116.7L937.3 116.6L938.1 116.6L939.1 116.7L940.1 116.8L941 117L941.7 117.2L942.3 117.3Z" fill="#6a2c93"/>
<path d="M956.7 105.2L956.3 104.7L955.9 103.9L955.4 103L954.8 102.1L954.2 101.2L953.6 100.6L953 100.2L952.3 99.9L951.6 99.7L951 99.6L950.4 99.6L950.1 99.5L950 100.2L950.3 100.2L950.9 100.3L951.5 100.4L952.1 100.6L952.6 100.8L953.1 101.1L953.6 101.7L954.1 102.5L954.6 103.4L955.1 104.4L955.4 105.2L955.7 105.7Z" fill="#6a2c93"/>
<path d="M968.8 127.9L968.2 126.8L967.6 125.3L966.9 123.4L966.2 121.5L965.7 119.7L965.4 118.2L965.3 116.8L965.3 115.6L965.4 114.4L965.6 113.2L965.9 112.1L966.3 111L966.8 110L967.5 108.9L968.3 107.9L969.1 106.8L970.1 105.8L971 104.7L972.1 103.6L973.4 102.3L974.7 101L975.9 99.9L977 98.9L977.7 98.2L977.1 97.4L976.3 98.1L975.2 99L973.9 100.2L972.5 101.4L971.1 102.6L970 103.7L968.9 104.7L967.9 105.7L966.9 106.7L966 107.8L965.2 109L964.5 110.2L963.9 111.4L963.5 112.7L963.1 114L962.9 115.4L962.8 116.8L962.8 118.4L963 120.2L963.3 122.2L963.7 124.3L964.2 126.3L964.5 127.9L964.5 129.1Z" fill="#6a2c93"/>
<path d="M966.5 111.9L966.4 110.9L966.4 109.6L966.4 108L966.3 106.2L966.3 104.5L966.2 102.9L966 101.3L965.8 99.5L965.6 97.8L965.4 96.2L965.2 94.9L965 93.9L964.2 94L964.3 95L964.5 96.3L964.7 97.9L964.9 99.7L965 101.4L965.1 102.9L965.1 104.5L965.1 106.2L965 107.9L965 109.5L964.9 110.9L964.8 111.9Z" fill="#6a2c93"/>
<path d="M986.8 147.7L987.8 147L989.4 146.3L991.4 145.4L993.5 144.5L995.5 143.4L997.2 142.1L998.4 140.6L999.3 139L1000 137.5L1000.5 135.9L1001 134.4L1001.6 132.9L1002.2 131.2L1002.8 129.5L1003.3 127.9L1003.9 126.3L1004.7 124.8L1005.7 123.5L1007.1 122.2L1008.9 121L1011 119.8L1013 118.7L1014.8 117.8L1016 117.2L1015.6 116.3L1014.3 116.9L1012.5 117.7L1010.4 118.6L1008.2 119.7L1006.2 120.9L1004.5 122.3L1003.2 123.8L1002.2 125.4L1001.4 127.1L1000.7 128.8L1000 130.4L999.3 131.8L998.6 133.4L997.9 134.9L997.3 136.3L996.6 137.6L995.9 138.7L995 139.5L993.7 140.3L992 141L990 141.6L988 142.1L986.3 142.4L984.9 142.6Z" fill="#6a2c93"/>
<path d="M998.3 136.9L997.6 136L996.7 134.7L995.7 133.2L994.5 131.6L993.4 130L992.2 128.6L991 127.4L989.6 126.2L988.1 125L986.8 124L985.6 123.2L984.8 122.6L984.3 123.2L985.1 123.9L986.2 124.7L987.5 125.8L988.9 127L990.2 128.2L991.3 129.4L992.3 130.8L993.4 132.4L994.3 134.1L995.2 135.6L996 137L996.4 138.1Z" fill="#6a2c93"/>
<path d="M990.8 127.1L990.6 126.4L990.3 125.4L990.1 124.3L989.8 123L989.7 121.9L989.6 120.8L989.6 119.9L989.8 118.9L990 118L990.2 117.1L990.4 116.3L990.5 115.8L989.9 115.6L989.8 116.2L989.5 116.9L989.3 117.8L989.1 118.8L988.9 119.8L988.8 120.8L988.9 121.9L989 123.2L989.2 124.4L989.4 125.6L989.6 126.6L989.7 127.3Z" fill="#6a2c93"/>
<path d="M998.4 142.8L999.4 143L1000.9 143.4L1002.6 143.9L1004.4 144.4L1006.1 144.8L1007.6 144.9L1008.9 144.8L1010.1 144.4L1011.2 143.9L1012.1 143.4L1012.9 143L1013.4 142.7L1013.1 142L1012.5 142.2L1011.7 142.7L1010.8 143.1L1009.8 143.5L1008.7 143.8L1007.6 143.8L1006.3 143.6L1004.7 143.2L1003 142.6L1001.4 141.9L999.9 141.3L999 140.9Z" fill="#6a2c93"/>
<path d="M1003.8 126.1L1004.4 126L1005.3 126L1006.4 126L1007.5 126L1008.7 126L1009.7 125.9L1010.7 125.6L1011.7 125.3L1012.7 125L1013.6 124.7L1014.3 124.4L1014.9 124.2L1014.7 123.6L1014.1 123.8L1013.4 124L1012.5 124.3L1011.5 124.6L1010.5 124.9L1009.6 125L1008.6 125.1L1007.5 125.1L1006.4 125L1005.4 125L1004.5 124.9L1003.8 124.8Z" fill="#6a2c93"/>
<path d="M953.8 149L952.3 149.4L950.1 149.7L947.5 150L944.8 150.2L942.2 150.3L939.9 150.3L938 150.2L936 149.9L934.1 149.6L932.1 149.2L930.2 149L928.2 149L926.4 149.3L924.7 149.9L923.1 150.5L921.6 151.2L920.1 151.8L918.4 152.2L916.3 152.6L913.8 152.9L911.2 153.1L908.8 153.3L906.7 153.5L905.2 153.6L905.3 154.6L906.8 154.5L908.9 154.5L911.3 154.4L913.9 154.3L916.5 154.2L918.7 154L920.6 153.6L922.3 153.1L923.9 152.5L925.4 152L926.8 151.6L928.3 151.5L929.9 151.6L931.6 152L933.4 152.4L935.4 152.9L937.5 153.4L939.7 153.8L942.1 154L944.8 154.2L947.6 154.4L950.2 154.5L952.4 154.7L953.9 155.1Z" fill="#6a2c93"/>
<path d="M932.9 149.4L931.9 148.6L930.5 147.5L928.9 146.1L927.2 144.6L925.6 143.3L924.1 142.3L922.8 141.5L921.6 140.9L920.4 140.4L919.2 140L918.1 139.7L916.8 139.5L915.5 139.4L914 139.4L912.5 139.5L911.1 139.7L909.9 139.8L909 139.9L909.1 140.7L910 140.6L911.1 140.5L912.5 140.4L914 140.4L915.4 140.4L916.7 140.6L917.8 140.8L918.9 141.1L919.9 141.5L921 142L922.1 142.7L923.3 143.4L924.6 144.5L926.1 145.9L927.7 147.4L929.2 148.9L930.5 150.2L931.3 151.2Z" fill="#6a2c93"/>
<path d="M934.3 148.6L933.7 147.5L933.1 145.7L932.3 143.7L931.4 141.5L930.3 139.5L929.2 137.9L927.9 136.6L926.3 135.6L924.6 134.8L923 134.2L921.7 133.7L920.8 133.3L920.4 134L921.4 134.4L922.7 135L924.2 135.7L925.8 136.5L927.2 137.5L928.4 138.6L929.3 140.1L930.2 142L930.9 144.2L931.6 146.2L932.1 148L932.5 149.3Z" fill="#6a2c93"/>
<path d="M925.7 135.1L925.5 134.6L925.3 133.8L925.1 133L925 132.1L924.8 131.3L924.8 130.6L924.9 130L925.1 129.4L925.3 128.8L925.6 128.2L925.8 127.7L926 127.4L925.4 127.1L925.3 127.4L925 127.9L924.7 128.5L924.4 129.1L924.2 129.8L924.1 130.5L924.1 131.3L924.2 132.2L924.3 133.2L924.5 134L924.6 134.7L924.7 135.3Z" fill="#6a2c93"/>
<path d="M936.3 153.9L935.6 155L934.5 156.4L933.3 158.1L931.9 159.9L930.7 161.8L929.7 163.5L929 165.2L928.6 167L928.3 168.7L928 170.1L927.5 171.3L926.7 172L925.3 172.4L923.2 172.5L920.8 172.3L918.5 172.1L916.4 171.8L915 171.6L914.9 172.4L916.3 172.6L918.3 172.9L920.7 173.3L923.2 173.5L925.4 173.5L927.3 173.1L928.5 172L929.2 170.5L929.6 168.9L929.9 167.2L930.3 165.6L931 164.2L932 162.7L933.3 161L934.7 159.2L936.1 157.6L937.3 156.3L938.2 155.4Z" fill="#6a2c93"/>
<path d="M927.2 169.6L927.4 170.2L927.6 171.1L927.9 172.1L928.1 173.2L928.3 174.2L928.4 175.1L928.4 175.9L928.2 176.6L928 177.4L927.8 178.1L927.6 178.7L927.5 179.1L928.1 179.3L928.2 178.9L928.4 178.3L928.7 177.6L928.9 176.8L929.1 176L929.2 175.1L929.1 174.1L929 173.1L928.8 171.9L928.6 170.9L928.4 170L928.3 169.3Z" fill="#6a2c93"/>
<path d="M918.9 153L918.2 153.6L917.2 154.4L916 155.3L914.7 156.2L913.6 157L912.7 157.6L912.1 158.1L911.6 158.5L911.3 158.9L911 159.1L910.8 159.3L910.6 159.5L911.1 160L911.3 159.8L911.5 159.6L911.7 159.4L912.1 159.1L912.5 158.7L913.1 158.2L914 157.6L915.2 156.9L916.5 156L917.8 155.2L918.9 154.6L919.7 154.1Z" fill="#6a2c93"/>
<path d="M966.5 170.8L966.8 172.1L967.1 173.9L967.3 176L967.5 178.2L967.6 180.4L967.6 182.2L967.6 183.7L967.6 185.1L967.5 186.3L967.4 187.5L967.1 188.7L966.6 189.9L965.9 191.3L964.8 192.8L963.6 194.3L962.3 195.8L961.1 197.3L960 198.7L958.9 199.9L957.9 201.2L956.9 202.4L956.1 203.4L955.3 204.3L954.8 205L955.5 205.6L956.1 205L956.9 204.2L957.8 203.2L958.9 202L960 200.9L961.1 199.6L962.3 198.4L963.6 197L965.1 195.6L966.5 194.1L967.7 192.5L968.7 191L969.5 189.5L970 188.1L970.3 186.7L970.5 185.3L970.6 183.9L970.8 182.4L971 180.4L971.2 178.2L971.3 176L971.5 173.8L971.6 172L972 170.7Z" fill="#6a2c93"/>
<path d="M968.6 186.5L967.6 186.1L966.2 185.5L964.5 184.7L962.6 183.9L960.8 183.4L959 183.2L957.2 183.6L955.4 184.3L953.7 185.2L952.1 186.2L950.8 187L949.8 187.5L950.2 188.2L951.2 187.7L952.6 186.9L954.2 186L955.9 185.2L957.5 184.6L959 184.4L960.5 184.6L962.1 185.2L963.8 186L965.4 186.9L966.8 187.7L967.8 188.3Z" fill="#6a2c93"/>
<path d="M966.7 192.4L967.2 193L967.8 193.9L968.5 194.9L969.2 195.9L969.9 196.9L970.3 197.8L970.7 198.6L970.9 199.4L971.1 200.1L971.2 200.8L971.3 201.4L971.4 201.8L972.1 201.6L972.1 201.2L972 200.6L971.9 199.9L971.7 199.1L971.5 198.3L971.2 197.4L970.7 196.5L970.2 195.4L969.5 194.2L968.9 193.2L968.4 192.2L968.1 191.6Z" fill="#6a2c93"/>
<path d="M959 123.4C960.2 123.3 964.9 128.1 967.9 130C971 132 973.7 132.9 977.4 135.2C981.1 137.5 988 141.1 990.2 143.9C992.4 146.7 990.3 149.1 990.7 152.1C991.2 155 990.9 157.3 992.8 161.8C994.7 166.3 1001.3 176.3 1002 179.2C1002.7 182.1 999.8 180.7 996.9 179.2C994 177.7 988.3 171.1 984.6 170C980.9 168.9 977.4 171.6 974.9 172.5C972.3 173.5 970.8 175.9 969.2 175.6C967.6 175.4 967 173.2 965.1 171C963.3 168.8 960.8 165.2 958 162.3C955.1 159.4 949.1 155.8 948.2 153.6C947.4 151.4 951.1 151.4 952.8 149C954.6 146.6 957.7 142.3 959 139.3C960.3 136.2 960.5 133.2 960.5 130.6C960.5 127.9 957.8 123.5 959 123.4Z" fill="#70309a"/>
<circle cx="968.7" cy="153.1" r="11.2" fill="#5e2488"/>
<circle cx="968.7" cy="153.1" r="7.4" fill="#371654"/>
<circle cx="968.2" cy="152.6" r="3.4" fill="#4a2470"/>
<path d="M943.1 261L942.6 259.9L942.2 258.3L941.6 256.5L941 254.4L940.4 252.4L939.6 250.5L938.8 248.8L937.9 247.1L936.9 245.5L935.9 243.9L934.8 242.3L933.7 240.8L932.6 239.3L931.3 237.9L930 236.5L928.8 235.1L927.6 233.9L926.6 232.7L925.7 231.6L924.8 230.5L924 229.5L923.4 228.6L922.8 227.8L922.4 227.3L921.7 227.7L922.1 228.3L922.7 229.1L923.3 230L924.1 231.1L924.9 232.2L925.8 233.4L926.7 234.6L927.9 235.9L929 237.3L930.2 238.8L931.4 240.3L932.4 241.7L933.4 243.3L934.4 244.8L935.3 246.4L936.1 248.1L936.9 249.7L937.5 251.3L938.1 253.1L938.6 255.1L939 257.1L939.3 259L939.5 260.6L939.6 261.8Z" fill="#6a2c93"/>
<path d="M936.7 246.1L936.7 245.1L936.9 243.7L937.1 242.1L937.3 240.4L937.5 238.7L937.7 237.2L937.9 235.9L938.1 234.5L938.4 233.2L938.6 232.1L938.8 231.1L938.9 230.3L938.2 230.2L938.1 230.9L937.8 231.9L937.6 233.1L937.3 234.4L937 235.7L936.7 237.1L936.4 238.5L936.1 240.2L935.8 241.9L935.5 243.5L935.2 244.9L934.9 245.8Z" fill="#6a2c93"/>
<path d="M942.2 255.7L942.7 254.7L943.5 253.3L944.4 251.8L945.4 250.2L946.4 248.6L947.4 247.2L948.3 246L949.3 244.8L950.3 243.6L951.2 242.4L952.1 241.3L952.8 240.1L953.3 238.9L953.6 237.7L953.8 236.5L953.9 235.4L954 234.5L954.1 233.9L953.4 233.8L953.3 234.5L953.1 235.3L953 236.4L952.8 237.5L952.4 238.6L951.9 239.7L951.3 240.7L950.4 241.8L949.4 242.9L948.4 244L947.3 245.2L946.3 246.4L945.3 247.8L944.2 249.3L943.1 250.9L942 252.4L941.1 253.6L940.4 254.5Z" fill="#6a2c93"/>
<path d="M949.7 244.6L950.6 244.4L952 244.2L953.5 243.9L955.2 243.6L956.7 243.3L957.9 243L959 242.8L959.9 242.5L960.7 242.2L961.4 242L962 241.7L962.4 241.6L962.2 241L961.7 241.1L961.2 241.3L960.5 241.6L959.7 241.8L958.8 242.1L957.8 242.3L956.5 242.5L955 242.8L953.4 243L951.8 243.2L950.5 243.4L949.5 243.5Z" fill="#6a2c93"/>
<path d="M945.5 249.9L946.6 249.8L948.2 249.6L950 249.5L952 249.4L953.7 249.3L955.2 249.1L956.3 248.9L957.2 248.7L958 248.5L958.7 248.2L959.2 248.1L959.6 247.9L959.4 247.3L959 247.4L958.5 247.6L957.8 247.8L957 248L956.1 248.2L955.1 248.4L953.7 248.5L951.9 248.6L950 248.6L948.1 248.7L946.6 248.7L945.4 248.7Z" fill="#6a2c93"/>
<path d="M938 249.5L936.9 249.2L935.3 248.8L933.4 248.2L931.4 247.6L929.5 247L927.8 246.3L926.3 245.5L924.8 244.5L923.4 243.5L922 242.5L920.7 241.6L919.5 240.9L918.4 240.4L917.4 239.9L916.4 239.6L915.6 239.4L914.9 239.2L914.4 239L914.2 239.7L914.7 239.9L915.4 240.1L916.2 240.3L917.1 240.7L918 241.1L919.1 241.7L920.2 242.4L921.4 243.3L922.8 244.3L924.2 245.4L925.7 246.4L927.3 247.3L929 248.1L931 248.9L932.9 249.6L934.8 250.3L936.4 250.8L937.5 251.3Z" fill="#6a2c93"/>
<path d="M940.4 255.9L939.1 255.9L937.4 255.7L935.4 255.5L933.2 255.2L931.1 254.8L929.1 254.4L927.3 253.9L925.4 253.2L923.4 252.4L921.6 251.7L919.8 251L918 250.5L916.4 250.1L914.7 249.8L913.1 249.6L911.7 249.4L910.6 249.3L909.7 249.2L909.6 249.9L910.5 250L911.6 250.2L913 250.4L914.6 250.6L916.2 251L917.8 251.4L919.4 252L921.2 252.7L923 253.5L924.9 254.3L926.8 255.1L928.8 255.7L930.8 256.2L933 256.7L935.1 257.1L937.2 257.5L938.9 257.8L940.1 258.1Z" fill="#6a2c93"/>
<path d="M938.9 257.3L937.7 257.7L935.9 258.1L933.8 258.7L931.6 259.2L929.4 259.8L927.4 260.4L925.6 261L923.7 261.6L921.9 262.3L920.2 262.9L918.8 263.4L917.8 263.8L918 264.5L919.1 264.1L920.5 263.7L922.1 263.1L924 262.5L925.9 261.9L927.7 261.3L929.6 260.8L931.8 260.3L934.1 259.9L936.2 259.5L938 259.1L939.3 258.9Z" fill="#6a2c93"/>
<g transform="rotate(64 1006.1 190.3)"><rect x="994.3" y="184.6" width="23.5" height="11.4" rx="2.8" fill="#eee166" stroke="#d8c944" stroke-width="0.8"/><ellipse cx="1006.1" cy="190.3" rx="3.4" ry="1.9" fill="#cdbc34"/></g>
<g transform="rotate(84 1013.5 216.5)"><rect x="1001.8" y="210.8" width="23.5" height="11.4" rx="2.8" fill="#eee166" stroke="#d8c944" stroke-width="0.8"/><ellipse cx="1013.5" cy="216.5" rx="3.4" ry="1.9" fill="#cdbc34"/></g>
<g transform="rotate(98 1012.7 245.4)"><rect x="1001" y="239.7" width="23.5" height="11.4" rx="2.8" fill="#eee166" stroke="#d8c944" stroke-width="0.8"/><ellipse cx="1012.7" cy="245.4" rx="3.4" ry="1.9" fill="#cdbc34"/></g>
<g transform="rotate(132 999.5 272.4)"><rect x="987.7" y="266.7" width="23.5" height="11.4" rx="2.8" fill="#eee166" stroke="#d8c944" stroke-width="0.8"/><ellipse cx="999.5" cy="272.4" rx="3.4" ry="1.9" fill="#cdbc34"/></g>
<g transform="rotate(184 972.2 286.5)"><rect x="960.4" y="280.8" width="23.5" height="11.4" rx="2.8" fill="#eee166" stroke="#d8c944" stroke-width="0.8"/><ellipse cx="972.2" cy="286.5" rx="3.4" ry="1.9" fill="#cdbc34"/></g>
<g transform="rotate(232 945.7 271.6)"><rect x="934" y="265.9" width="23.5" height="11.4" rx="2.8" fill="#eee166" stroke="#d8c944" stroke-width="0.8"/><ellipse cx="945.7" cy="271.6" rx="3.4" ry="1.9" fill="#cdbc34"/></g>
<path d="M654.8 384.4V392.2M651 388.4L654.8 392.2L658.6 388.4" fill="none" stroke="#c0202a" stroke-width="1.9" stroke-linecap="round" stroke-linejoin="round"/>
<line x1="780" y1="389.2" x2="785.6" y2="389.2" stroke="#000" stroke-width="2"/><path d="M789.8 389.2L784.6 393L785.4 389.2L784.6 385.4Z" fill="#000"/>
<ellipse cx="1141.2" cy="157" rx="21.9" ry="6.1" transform="rotate(-23.8 1141.2 157)" fill="#c4c9d1"/>
<ellipse cx="1144.6" cy="171.7" rx="48.3" ry="8.3" transform="rotate(-25.1 1144.6 171.7)" fill="#c4c9d1"/>
<ellipse cx="1161.5" cy="183.1" rx="50.7" ry="8.5" transform="rotate(-25.3 1161.5 183.1)" fill="#c4c9d1"/>
<ellipse cx="1174.6" cy="194.5" rx="45.5" ry="7.9" transform="rotate(-21.5 1174.6 194.5)" fill="#c4c9d1"/>
<ellipse cx="1199" cy="209.5" rx="20.3" ry="6.5" transform="rotate(-27.7 1199 209.5)" fill="#c4c9d1"/>
<ellipse cx="1114.1" cy="206.6" rx="20.1" ry="5.7" transform="rotate(-24.9 1114.1 206.6)" fill="#c4c9d1"/>
<ellipse cx="1141.2" cy="156.1" rx="16.9" ry="3.8" transform="rotate(-23.8 1141.2 156.1)" fill="#d2d6dc"/>
<ellipse cx="1144.6" cy="170.8" rx="43.3" ry="6" transform="rotate(-25.1 1144.6 170.8)" fill="#d2d6dc"/>
<ellipse cx="1161.5" cy="182.2" rx="45.7" ry="6.2" transform="rotate(-25.3 1161.5 182.2)" fill="#d2d6dc"/>
<ellipse cx="1174.6" cy="193.6" rx="40.5" ry="5.6" transform="rotate(-21.5 1174.6 193.6)" fill="#d2d6dc"/>
<ellipse cx="1199" cy="208.6" rx="15.3" ry="4.2" transform="rotate(-27.7 1199 208.6)" fill="#d2d6dc"/>
<ellipse cx="1114.1" cy="205.7" rx="15.1" ry="3.4" transform="rotate(-24.9 1114.1 205.7)" fill="#d2d6dc"/>
<path d="M1111.7 178.2C1112.1 177.2 1113.3 173.8 1114.6 172.3C1115.9 170.8 1119 169 1119.5 169.4C1120 169.7 1117.2 173.8 1117.6 174.3C1117.9 174.8 1121.7 171.5 1121.5 172.3C1121.3 173.1 1118 177.7 1116.6 179.2C1115.2 180.8 1113.8 181.2 1113.2 181.6" fill="none" stroke="#465160" stroke-width="0.6"/>
<path d="M1145.1 180.2C1145.8 180.9 1148.6 182.5 1149.1 184.1C1149.5 185.8 1148.9 188.6 1148.1 190C1147.3 191.5 1144.3 193.1 1144.1 192.6C1144 192.1 1147 188.3 1147.1 187.1C1147.2 185.8 1145.1 185.4 1144.7 185.1" fill="none" stroke="#465160" stroke-width="0.6"/>
<path d="M1184.5 185.1C1184.2 184.1 1182.2 181.2 1182.5 179.2C1182.8 177.2 1185.3 173.6 1186.5 173.3C1187.6 173 1189.4 176.1 1189.4 177.2C1189.4 178.4 1186.6 180.5 1186.5 180.2C1186.3 179.9 1188.1 176.1 1188.4 175.3" fill="none" stroke="#465160" stroke-width="0.6"/>
<path d="M1192.4 210.7C1192.9 210.2 1194 208.1 1195.3 207.8C1196.6 207.4 1199.3 207.8 1200.2 208.7C1201.2 209.7 1201.7 212.3 1201.2 213.7C1200.7 215 1198.6 216.5 1197.3 216.6C1196 216.8 1193.5 215.6 1193.3 214.6C1193.2 213.7 1195.4 211.4 1196.3 211.1C1197.2 210.8 1198.3 212.4 1198.7 212.7" fill="none" stroke="#465160" stroke-width="0.6"/>
<path d="M1091 200.9C1091.4 200.5 1092.6 198.6 1093.5 198.5C1094.5 198.4 1096.5 199.5 1096.9 200.5C1097.3 201.5 1096.7 203.8 1095.9 204.4C1095.2 205.1 1092.9 204.9 1092.4 204.4C1091.9 203.9 1092.5 201.7 1093 201.3C1093.4 200.9 1094.6 201.9 1094.9 202" fill="none" stroke="#465160" stroke-width="0.6"/>
<path d="M1214.5 195.8Q1212.8 195.8 1213 193C1213.4 188.5 1217 186 1220.5 186.6C1222 181.5 1229.5 179.6 1233.6 183.5C1236.5 185.5 1237 188 1236.6 189.6C1240.6 189.2 1243 192 1242.4 195.8Z" fill="#b3b8c1"/>
<g transform="translate(1044.3 -103.4)">
<ellipse cx="110.5" cy="377.3" rx="84" ry="7.3" fill="#98a3b3" opacity="0.5"/>
<path d="M179.4 365.1L180.5 365.1L182 365.1L183.6 365L185.5 365L187.4 365L189.3 365.1L191.1 365.2L192.8 365.4L194.4 365.7L196.1 365.9L197.7 366.3L199.4 366.6L200.9 367.1L202.3 367.5L203.5 368L204.5 368.6L205.4 369.3L206.3 370.1L207.2 370.9L207.9 371.8L208.5 372.7L209 373.7L209.3 374.6L209.6 375.5L209.7 376.6L209.7 377.8L209.6 379L209.4 380.3L209 381.5L208.5 382.7L207.8 383.9L206.9 384.9L205.7 386L204.3 387.1L202.6 388.2L200.7 389.3L198.5 390.4L196.2 391.4L193.7 392.4L191.1 393.2L188.3 394L185.3 394.7L182.1 395.4L178.7 396L175.2 396.5L171.6 397L167.9 397.5L164.1 397.9L160.2 398.3L156.2 398.6L152 398.8L147.7 399L143.4 399.2L139.2 399.4L135.1 399.5L131.2 399.7L127.5 399.8L123.9 400L120.4 400.1L116.9 400.2L113.6 400.3L110.2 400.4L106.9 400.5L103.7 400.6L100.3 400.7L96.7 400.7L93.1 400.8L89.6 400.9L86.2 401L83.3 401L80.8 401.1L78.9 401.1L78.9 403.5L80.8 403.6L83.3 403.6L86.3 403.6L89.6 403.6L93.1 403.6L96.7 403.6L100.3 403.6L103.7 403.6L107 403.6L110.3 403.6L113.6 403.6L117 403.5L120.4 403.5L123.9 403.5L127.6 403.4L131.3 403.4L135.2 403.3L139.3 403.3L143.5 403.2L147.8 403.1L152.2 403L156.4 402.9L160.6 402.7L164.5 402.4L168.3 402.1L172.1 401.7L175.8 401.3L179.5 400.8L183 400.3L186.4 399.7L189.6 399L192.6 398.2L195.5 397.4L198.2 396.4L200.7 395.4L203.2 394.2L205.4 393L207.5 391.7L209.3 390.4L211 388.9L212.4 387.3L213.6 385.5L214.5 383.6L215.1 381.7L215.4 379.9L215.6 378L215.7 376.3L215.5 374.6L215.2 372.9L214.6 371.3L213.8 369.7L212.9 368.2L211.8 366.8L210.6 365.6L209.3 364.4L207.9 363.3L206.3 362.4L204.6 361.6L202.9 360.9L201 360.4L199.2 359.9L197.3 359.5L195.5 359.1L193.7 358.8L191.8 358.6L189.7 358.4L187.6 358.2L185.6 358.2L183.7 358.1L182 358.1L180.6 358.1L179.5 358.1Z" fill="#f3bdb8"/>
<path d="M27.9 348.3C28.5 346.6 30 344.4 32 342C34.1 339.6 37.1 336.5 40.3 333.7C43.5 331 47.4 328 51.3 325.5C55.2 322.9 59.4 319.3 63.7 318.6C68.1 317.9 73.1 321.9 77.5 321.3C81.9 320.8 85.5 317 89.9 315.3C94.3 313.5 99.1 311.8 103.7 310.9C108.3 309.9 112.9 309.5 117.5 309.5C122.1 309.5 126.7 309.7 131.2 310.9C135.8 312 140.4 313.8 145 316.4C149.6 318.9 154.7 322.7 158.8 326.3C162.9 329.9 166.5 333.6 169.8 337.9C173.1 342.1 176.3 347.5 178.6 351.6C180.9 355.8 182.9 359.1 183.6 362.7C184.3 366.2 184.2 370.6 183.1 373.1C181.9 375.7 179.6 377 176.4 378.1C173.3 379.2 169.1 379.4 164.3 379.8C159.5 380.1 153.7 380.4 147.8 380.3C141.8 380.2 134.9 379.4 128.5 378.9C122.1 378.5 115.2 377.9 109.2 377.5C103.2 377.2 97.7 377.1 92.7 377C87.6 376.9 82.3 377.1 78.9 376.7C75.4 376.4 73.7 376 72 374.8C70.3 373.6 69.6 371.3 68.4 369.6C67.3 367.8 67 365.5 65.1 364C63.2 362.6 59.6 361.4 56.8 360.7C54.1 360 51.3 360.4 48.6 359.9C45.8 359.4 42.8 358.5 40.3 357.7C37.8 356.9 35.4 355.9 33.4 355C31.5 354 29.7 353.3 28.7 352.2C27.8 351.1 27.4 350 27.9 348.3Z" fill="#43362f"/>
<path d="M69.2 370.9C70.9 369.8 76.4 368.4 81.6 368.2C86.9 367.9 94.5 368.9 100.9 369.6C107.4 370.2 113.8 371.7 120.2 372.3C126.7 372.9 133.1 373.4 139.5 373.1C145.9 372.9 152.8 371.9 158.8 370.9C164.8 370 171.3 367.3 175.3 367.6C179.4 368 182.9 371.4 183.1 373.1C183.2 374.9 179.6 377 176.4 378.1C173.3 379.2 169.1 379.4 164.3 379.8C159.5 380.1 153.7 380.4 147.8 380.3C141.8 380.2 134.9 379.4 128.5 378.9C122.1 378.5 115.2 377.9 109.2 377.5C103.2 377.2 97.7 377.1 92.7 377C87.6 376.9 82.3 377.1 78.9 376.7C75.4 376.4 73.6 375.8 72 374.8C70.4 373.8 67.6 372 69.2 370.9Z" fill="#2d2521" opacity="0.8"/>
<path d="M139.5 335.1C140.9 333.5 148.9 336.9 153.3 339.2C157.7 341.5 162.5 345 165.7 348.9C168.9 352.8 172.8 359.5 172.6 362.7C172.3 365.9 167.5 368.6 164.3 368.2C161.1 367.7 156.5 363.1 153.3 359.9C150.1 356.7 147.3 353 145 348.9C142.7 344.8 138.1 336.7 139.5 335.1Z" fill="#574940" opacity="0.45"/>
<path d="M100.9 335.1C101.6 336.9 104.6 342 105.1 346.1C105.5 350.3 104.8 355.8 103.7 359.9C102.5 364 99.1 369.1 98.2 370.9" fill="none" stroke="#2d2521" stroke-width="2.2" opacity="0.8"/>
<path d="M92.7 318.6C96.3 317.9 107.4 314.7 114.7 314.4C122.1 314.2 130.3 315.1 136.8 317.2C143.2 319.3 150.5 325.2 153.3 326.8" fill="none" stroke="#574940" stroke-width="2" opacity="0.6"/>
<path d="M51.3 348.9C52.3 347.1 59.4 348.7 62.4 350.3C65.3 351.9 68.8 356.2 69.2 358.5C69.7 360.8 67.2 363.7 65.1 364C63 364.4 59.1 363.3 56.8 360.7C54.5 358.2 50.4 350.6 51.3 348.9Z" fill="#2d2521" opacity="0.7"/>
<path d="M168.4 362.7C167.1 363.4 166.5 368.5 164.3 370.9C162.2 373.3 158.3 375.5 155.5 377C152.7 378.5 150.4 379.3 147.8 379.8C145.1 380.2 141.7 379.4 139.5 379.8C137.3 380.1 134.6 381.2 134.6 382C134.6 382.7 137.8 383.5 139.5 384.2C141.3 384.8 143.2 386.1 145 385.8C146.9 385.5 148.2 383.5 150.5 382.5C152.8 381.5 156 381 158.8 379.8C161.6 378.5 164.8 377.2 167.1 375.1C169.4 372.9 172.3 368.9 172.6 366.8C172.8 364.7 169.8 362 168.4 362.7Z" fill="#f6c9c4" stroke="#eeb0aa" stroke-width="0.5"/>
<path d="M73.9 371.5C72.9 371.1 71.4 373.2 69.2 373.7C67.1 374.1 63.5 374 61 374.2C58.5 374.5 55.6 374.8 54.1 375.3C52.6 375.9 51.5 377 52.2 377.5C52.8 378.1 56.1 378.4 58.2 378.6C60.4 378.9 63 379.3 65.1 379.2C67.3 379.1 69.4 378.6 71.2 378.1C72.9 377.5 75.1 377 75.6 375.9C76 374.8 75 371.9 73.9 371.5Z" fill="#f6c9c4" stroke="#eeb0aa" stroke-width="0.5"/>
<path d="M62.4 332.9C61.5 330.8 63.1 325 64 321.3C64.9 317.7 65.8 313.9 67.9 310.9C69.9 307.8 73.6 304.3 76.1 303.1C78.7 302 81.2 302.5 83 303.7C84.9 304.9 86.3 308.1 87.2 310.3C88 312.6 88.8 315 88.3 317.2C87.7 319.4 85.6 321.9 83.8 323.5C82.1 325.1 79.2 325.6 77.5 326.8C75.9 328.1 75.3 329.8 73.9 331C72.6 332.1 71.2 333.4 69.2 333.7C67.3 334.1 63.2 335 62.4 332.9Z" fill="#43362f"/>
<path d="M66.5 321.3C65.6 319.5 67.6 315.5 69.2 313.1C70.9 310.7 74 307.8 76.1 307C78.3 306.2 80.8 306.9 82.2 308.1C83.6 309.3 84.7 312.2 84.4 314.4C84.1 316.6 81.9 319.7 80.3 321.3C78.7 322.9 77.1 324.1 74.8 324.1C72.5 324.1 67.4 323.2 66.5 321.3Z" fill="#574940"/>
<path d="M69 326.8C69.4 324.8 70.8 322.3 72.3 321.3C73.7 320.3 76.3 320.3 77.8 320.8C79.3 321.2 80.6 322.6 81.1 324.1C81.6 325.6 81.1 327.9 80.5 329.6C80 331.3 78.6 332.4 77.8 334C77 335.6 76.6 338.2 75.6 339C74.6 339.7 72.7 339.3 71.7 338.4C70.7 337.5 70 335.4 69.5 333.5C69.1 331.5 68.5 328.9 69 326.8Z" fill="#f7dcd6"/>
<ellipse cx="49.4" cy="337.3" rx="4.8" ry="4" fill="#5e1018"/>
<ellipse cx="49.4" cy="337.3" rx="3.2" ry="2.7" fill="#e23640"/>
<circle cx="49.4" cy="337.3" r="1.3" fill="#5a0d14"/>
<circle cx="37" cy="352.2" r="2.2" fill="#6a5d55" opacity="0.9"/>
<line x1="36.2" y1="355.8" x2="40.9" y2="367.6" stroke="#3b3431" stroke-width="0.45"/>
<line x1="38.1" y1="356.1" x2="47.2" y2="369.3" stroke="#3b3431" stroke-width="0.45"/>
<line x1="40.3" y1="356.3" x2="51.3" y2="368.7" stroke="#3b3431" stroke-width="0.45"/>
<line x1="42.5" y1="356.1" x2="55.5" y2="366" stroke="#3b3431" stroke-width="0.45"/>
<line x1="44.4" y1="355.5" x2="59" y2="362.7" stroke="#3b3431" stroke-width="0.45"/>
<line x1="34.2" y1="356.6" x2="35.4" y2="364" stroke="#3b3431" stroke-width="0.45"/>
</g>
<path d="M3 0L-4.5 11.5L-0.5 11L-3.5 24L5 8.5L1 9.2L6 0Z" fill="#c5202b" transform="translate(1106.5 129) rotate(-45.7) scale(1.05)"/>
<path d="M3 0L-4.5 11.5L-0.5 11L-3.5 24L5 8.5L1 9.2L6 0Z" fill="#c5202b" transform="translate(1167.4 114.4) rotate(-8) scale(1.03)"/>
<path d="M3 0L-4.5 11.5L-0.5 11L-3.5 24L5 8.5L1 9.2L6 0Z" fill="#c5202b" transform="translate(1065.4 172.6) rotate(-86.6) scale(1.09)"/>
<path d="M3 0L-4.5 11.5L-0.5 11L-3.5 24L5 8.5L1 9.2L6 0Z" fill="#c5202b" transform="translate(1219.8 170.5) rotate(4.2) scale(1.0)"/>
<path d="M3 0L-4.5 11.5L-0.5 11L-3.5 24L5 8.5L1 9.2L6 0Z" fill="#c5202b" transform="translate(1219.9 199.1) rotate(6) scale(0.37)"/>
<path d="M3 0L-4.5 11.5L-0.5 11L-3.5 24L5 8.5L1 9.2L6 0Z" fill="#c5202b" transform="translate(1226.7 199.1) rotate(6) scale(0.37)"/>
<path d="M3 0L-4.5 11.5L-0.5 11L-3.5 24L5 8.5L1 9.2L6 0Z" fill="#c5202b" transform="translate(1233.5 199.1) rotate(6) scale(0.37)"/>
<text x="1102.8" y="166.6" font-family="Liberation Sans, sans-serif" font-weight="bold" font-size="12.5" fill="#2f63b5" text-anchor="middle" transform="rotate(-8 1102.8 166.6)">?</text>
<text x="1160.6" y="180.4" font-family="Liberation Sans, sans-serif" font-weight="bold" font-size="11.5" fill="#2f63b5" text-anchor="middle" transform="rotate(-6 1160.6 180.4)">!</text>
<text x="1076" y="208.8" font-family="Liberation Sans, sans-serif" font-weight="bold" font-size="17" fill="#2f63b5" text-anchor="middle" transform="rotate(-20 1076 208.8)">!</text>
<text x="1228" y="193.2" font-family="Liberation Sans, sans-serif" font-weight="bold" font-size="11.5" fill="#2f63b5" text-anchor="middle" transform="rotate(6 1228 193.2)">?</text></svg><div class="t b" id="t1" style="left:29.3px;top:72.6px;font-size:15px;">ApoE</div>
<div class="t b" id="t2" style="left:29.5px;top:91.1px;font-size:15px;">knockdown</div>
<div class="t b" id="t3" style="left:29.5px;top:148.1px;font-size:15.1px;">Hippocampus</div>
<div class="t" id="t4" style="left:196.5px;top:197.8px;font-size:10.3px;color:#1c2535;">Virus</div>
<div class="t" id="t5" style="left:196.5px;top:210.4px;font-size:11.4px;color:#1c2535;">injection</div>
<div class="t" id="t6" style="left:403.3px;top:61px;font-size:12.4px;">ApoE secretion</div>
<div class="t" id="t7" style="left:286.8px;top:170.3px;font-size:11.5px;">Astrocyte</div>
<div class="t" id="t8" style="left:412.8px;top:175.2px;font-size:10.5px;">ApoE</div>
<div class="t" id="t9" style="left:505.5px;top:106.3px;font-size:11.3px;">Pre-synaptic</div>
<div class="t" id="t10" style="left:582.3px;top:205.4px;font-size:10.6px;">GABA</div>
<div class="t" id="t11" style="left:464px;top:261.7px;font-size:10.3px;">ApoE</div>
<div class="t" id="t12" style="left:457.2px;top:273.6px;font-size:10.3px;">receptor</div>
<div class="t" id="t13" style="left:520.4px;top:261.7px;font-size:10.3px;">KCC2</div>
<div class="t" id="t14" style="left:572px;top:266.8px;font-size:10px;">GABA<sub>A</sub>R</div>
<div class="t" id="t15" style="left:502.8px;top:348.6px;font-size:11.3px;">Post-synaptic</div>
<div class="t b" id="t16" style="left:712.3px;top:19.7px;font-size:15.3px;">Decreased GABA<sub>A</sub>R α1 protein levels</div>
<div class="t" id="t17" style="left:662px;top:382.5px;font-size:12.4px;">ApoE receptor levels</div>
<div class="t" id="t17b" style="left:793.4px;top:382.5px;font-size:12.4px;">Degradation of KCC2</div>
<div class="t c" id="t18" style="left:881.3px;width:160px;top:299.6px;font-size:12.4px;">Weakened</div>
<div class="t c" id="t19" style="left:881.3px;width:160px;top:315.4px;font-size:12.4px;">GABAergic inhibition</div>
<div class="t c" id="t20" style="left:881.3px;width:160px;top:330.5px;font-size:12.4px;">leads to postsynaptic</div>
<div class="t c" id="t21" style="left:881.3px;width:160px;top:344.7px;font-size:12.4px;">abnormalities</div>
<div class="t b c" id="t22" style="left:1061.8px;width:180px;top:309.2px;font-size:15.1px;">Depression-like</div>
<div class="t b c" id="t23" style="left:1066.4px;width:180px;top:326.5px;font-size:15.1px;">behaviors</div>
<div class="t b" id="t24" style="left:701.6px;top:312.2px;font-size:6.3px;">NH<sub>2</sub></div>
<div class="t b" id="t25" style="left:795.2px;top:350.2px;font-size:6.6px;">COOH</div>
<div id="banner">
<div id="b1" style="top:8.9px;">ApoE knockdown in the mice hippocampus leads to reduced ApoE receptor levels, which causes KCC2 degradation,</div>
<div id="b2" style="top:34.4px;">decreasing protein levels of KCC2 and GABA<sub>A</sub>R α1, followed by weakening of GABAergic inhibition in neurons and</div>
<div id="b3" style="top:59.8px;">ultimately inducing depression-like behavior in mice</div>
</div>
</body></html>
